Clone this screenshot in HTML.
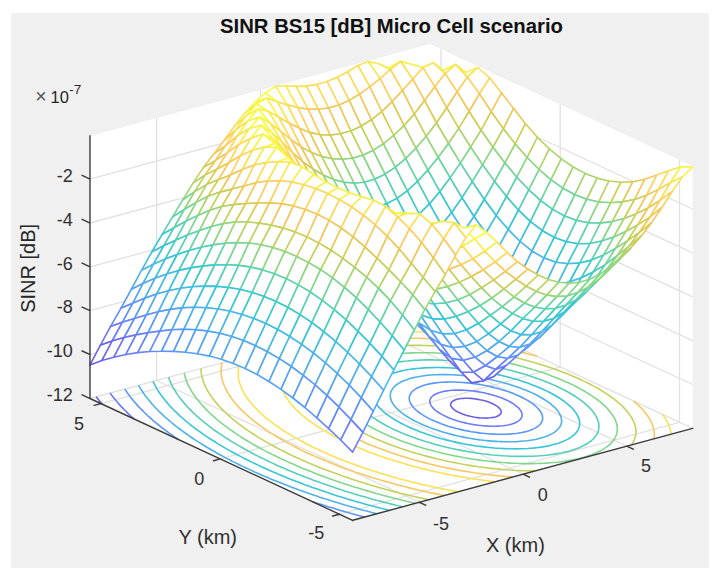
<!DOCTYPE html>
<html><head><meta charset="utf-8"><title>SINR BS15 [dB] Micro Cell scenario</title>
<style>
html,body{margin:0;padding:0;background:#fff;}
body{width:720px;height:579px;overflow:hidden;position:relative;}
#fig{position:absolute;left:11px;top:13px;width:698.3px;height:555.4px;background:#f0f0f0;}
svg{position:absolute;left:0;top:0;font-family:"Liberation Sans",Arial,Helvetica,sans-serif;}
</style></head><body>
<div id="fig"></div>
<svg width="720" height="579" viewBox="0 0 720 579">
<defs><filter id="bl" x="-2%" y="-2%" width="104%" height="104%"><feGaussianBlur stdDeviation="0.6"/></filter></defs>
<polygon points="352.6,520.3 692.6,428.4 430,306.6 90,398.5" fill="#fff"/>
<polygon points="90,398.5 430,306.6 430,44.1 90,136" fill="#fff"/>
<polygon points="430,306.6 692.6,428.4 692.6,165.9 430,44.1" fill="#fff"/>
<path d="M419.3 502.3L156.7 380.5M156.7 380.5L156.7 118M523.1 474.2L260.5 352.4M260.5 352.4L260.5 89.9M626.9 446.2L364.3 324.4M364.3 324.4L364.3 61.9M339.5 514.2L679.5 422.3M679.5 422.3L679.5 159.8M220.2 458.9L560.2 367M560.2 367L560.2 104.5M101 403.6L441 311.7M441 311.7L441 49.2M90 398.5L430 306.6M430 306.6L692.6 428.4M90 354.6L430 262.7M430 262.7L692.6 384.5M90 310.7L430 218.8M430 218.8L692.6 340.6M90 266.9L430 175M430 175L692.6 296.8M90 223L430 131.1M430 131.1L692.6 252.9M90 179.1L430 87.2M430 87.2L692.6 209" stroke="#e1e1e1" stroke-width="1.3" fill="none"/>
<g fill="none" stroke-width="1.6" filter="url(#bl)">
<polyline points="490.5,417.8 487.9,418 486.9,418.1 482.7,418 480.3,417.9 477.7,417.6 474.8,417.2 471.3,416.5 470.1,416.3 466,415.2 462.4,414 459.2,412.6 456.4,411.2 454.1,409.6 452.3,407.9 452,407.6 451,406.1 450.7,405.1 450.7,404 450.9,403.3 451.8,401.8 452.6,401.3 453.4,400.7 455.5,399.7 458,399 461.1,398.5 463.3,398.4 464.6,398.3 468.7,398.3 471.2,398.4 473.6,398.7 476.8,399.1 479.8,399.7 481.5,400 485.7,401.1 489.3,402.3 492.2,403.5 492.5,403.6 492.7,403.8 495.3,405.1 497.7,406.6 499.5,408.3 500.2,409.1 500.8,410.1 501.2,411.5 501.2,412.2 501,413.3 499.9,414.7 499.7,414.8 498.3,415.8 496.2,416.7 493.6,417.4 490.5,417.8" stroke="#6b61e2"/>
<polyline points="96.2,396.8 97.2,398 97.6,398.6 99.1,400.4 99.7,401.1 100.6,402.2 102.2,404 102.5,404.3" stroke="#6b61e2"/>
<polyline points="500,426 498.4,426.1 496.3,426.2 492.3,426.3 490,426.2 488,426.1 483.3,425.8 483.2,425.8 477.8,425.2 477.6,425.2 472.4,424.4 471.6,424.2 467.7,423.5 464.1,422.6 463.3,422.5 459.3,421.4 455.5,420.2 452.6,419.2 451.9,419 448.6,417.7 445.5,416.3 442.7,414.9 440,413.4 439.7,413.2 437.6,411.9 435.5,410.3 433.6,408.6 433.4,408.4 432,406.8 431,405.4 430.8,405 430,403 430,403 429.8,401.1 429.8,400.8 430.2,399.3 430.6,398.5 430.9,397.8 432.1,396.5 433.2,395.6 433.6,395.2 435.4,394.2 437.4,393.2 439.7,392.4 442.3,391.7 445.1,391.1 448.2,390.7 451.5,390.3 452.8,390.2 455.1,390.1 459.1,390.1 461.5,390.1 463.4,390.2 468.1,390.5 468.2,390.5 473.4,391 474,391.1 479.2,391.9 479.5,392 483.9,392.8 486.8,393.5 488.3,393.8 492.4,394.9 496.2,396.1 497.4,396.5 499.7,397.3 503.1,398.6 506.2,399.9 509,401.3 511.7,402.8 513.5,403.9 514.1,404.3 516.3,406 518.2,407.6 518.9,408.3 519.8,409.4 521.1,411.2 521.1,411.2 521.9,413.2 521.9,413.5 522.1,415.3 522.1,415.5 521.7,417.2 521.4,417.7 520.8,418.7 519.6,420 519,420.6 518.1,421.2 516.3,422.3 514.2,423.2 511.9,424 509.3,424.7 506.5,425.3 503.3,425.7 500,426" stroke="#6c7cfa"/>
<polyline points="110.1,393.1 111.5,394.9 111.9,395.4 112.9,396.7 114.2,398.4 114.3,398.5 115.8,400.3 116.7,401.4 117.3,402.1 118.8,403.9 119.5,404.6 120.4,405.6 122,407.4 122.6,407.9 123.7,409.1 125.4,410.8 126,411.4 127.2,412.6 128.9,414.3 129.8,415.1 130.7,416 132.6,417.7 134,418.9" stroke="#6c7cfa"/>
<polyline points="312.3,501.6 314.1,502.2 317.8,503.4 321.5,504.6 325.3,505.8 325.6,505.9 329,507 332.8,508.1 336.7,509.3 337.6,509.5 340.5,510.4 344.4,511.6 348.4,512.7 348.5,512.7 352.3,513.8 356.3,514.9 358.7,515.5 360.4,516 364.4,517.1" stroke="#5a98fc"/>
<polyline points="512.7,433.8 509.5,434.1 509.2,434.1 505.5,434.3 501.6,434.3 500.5,434.3 497.4,434.3 493.1,434.1 493,434.1 488.2,433.8 486.7,433.7 483.1,433.3 480.8,433.1 477.5,432.6 475.4,432.3 471.4,431.7 470.4,431.5 465.6,430.6 464.4,430.4 461.1,429.6 456.8,428.6 456.2,428.4 452.8,427.5 448.9,426.4 445.2,425.2 444.8,425 441.7,423.9 438.3,422.6 435.1,421.3 432.1,420 429.1,418.6 426.4,417.1 423.8,415.6 421.9,414.4 421.4,414.1 419.1,412.5 417,410.9 415.6,409.6 415.1,409.2 413.5,407.5 412.5,406.2 412,405.7 410.8,403.8 410.7,403.5 409.9,401.8 409.7,401.2 409.4,399.8 409.3,399.1 409.3,397.6 409.3,397.2 409.7,395.5 409.8,395.3 410.4,394 411.3,392.7 411.4,392.5 412.6,391.2 414.1,390 414.6,389.6 415.7,388.9 417.6,387.8 419.6,386.9 421.8,386 424.2,385.2 426.8,384.5 429.5,383.9 432.4,383.4 435.5,382.9 438.8,382.5 441.7,382.3 442.3,382.3 446,382.1 449.9,382 450.9,382 454,382 458.4,382.2 458.4,382.2 463.1,382.5 464.8,382.6 468.2,382.9 470.7,383.2 473.7,383.6 476.1,383.9 479.8,384.5 481.2,384.8 486,385.7 486.6,385.8 490.5,386.6 494.6,387.6 494.8,387.7 498.9,388.8 502.7,389.9 505.5,390.8 506.5,391.1 510,392.3 513.4,393.6 516.6,394.9 519.7,396.3 522.6,397.7 525.3,399.1 527.9,400.6 530.4,402.1 531.1,402.7 532.6,403.7 534.7,405.4 536.6,407 536.8,407.2 538.3,408.8 539.7,410.4 539.8,410.5 541,412.4 541.4,413.1 541.9,414.4 542.3,415.4 542.5,416.4 542.6,417.5 542.6,418.5 542.6,419.3 542.2,420.9 542.1,421 541.4,422.5 540.8,423.4 540.4,424 539.1,425.3 537.7,426.5 537.6,426.5 536,427.6 534.1,428.6 532,429.6 529.8,430.4 527.4,431.2 524.8,431.9 522,432.5 519.1,433 516,433.5 512.7,433.8" stroke="#5a98fc"/>
<polyline points="124.8,389.1 125.8,390.5 126.1,390.9 127.3,392.8 127.7,393.3 128.6,394.6 129.8,396.2 130,396.4 131.4,398.3 132.1,399.1 132.9,400.1 134.4,401.8 134.7,402.2 135.9,403.6 137.5,405.4 137.5,405.4 139.1,407.1 140.7,408.8 140.8,408.9 142.5,410.6 144.2,412.3 144.2,412.3 146,414 147.8,415.7 148.1,416 149.7,417.4 151.5,419.1 152.5,419.9 153.5,420.8 155.4,422.4 157.4,424.1 157.5,424.1 159.5,425.7 161.5,427.4 163.3,428.7 163.6,429 165.8,430.6 167.9,432.2 170,433.7 170.1,433.8 172.4,435.4 174.6,437 176.9,438.5 178.2,439.4" stroke="#5a98fc"/>
<polyline points="527.4,440.7 524.4,441 524.1,441 520.7,441.3 517.1,441.6 513.7,441.7 513.4,441.7 509.4,441.8 505.4,441.8 505.3,441.8 501,441.6 498.2,441.5 496.5,441.4 491.7,441.1 491.6,441.1 486.6,440.6 485.6,440.5 481.2,440 480,439.9 475.4,439.2 474.6,439.1 469.6,438.3 469.2,438.2 464.8,437.4 462.2,436.9 460.2,436.5 455.7,435.5 454.3,435.1 451.5,434.4 447.4,433.3 444.8,432.6 443.5,432.2 439.7,431 436,429.8 432.5,428.6 430.8,428 429.1,427.3 425.8,426 422.6,424.7 419.6,423.3 416.7,421.9 413.9,420.5 411.2,419 410.1,418.4 408.6,417.5 406.2,416 403.9,414.4 401.7,412.8 401.2,412.4 399.7,411.2 397.9,409.5 396.8,408.4 396.1,407.8 394.6,406 394.1,405.3 393.3,404.2 392.3,402.6 392.1,402.3 391.2,400.3 391.1,400.1 390.6,398.3 390.5,398 390.3,396.2 390.3,396 390.3,394.1 390.4,394 390.7,392.4 391,391.6 391.3,390.8 392.2,389.3 392.3,389.1 393.2,387.9 394.4,386.5 394.8,386.2 395.8,385.3 397.4,384.1 399.1,383 399.8,382.7 401,382 403,381.1 405.2,380.2 407.5,379.4 409.9,378.6 412.5,377.9 415.2,377.3 418,376.7 421,376.2 424.1,375.7 426.6,375.4 427.4,375.3 430.8,375 434.4,374.8 437.6,374.7 438.1,374.6 442,374.6 446,374.6 446.1,374.6 450.4,374.7 453.3,374.8 454.9,374.9 459.6,375.2 459.9,375.2 464.7,375.6 465.9,375.8 470,376.2 471.6,376.4 475.8,377 476.9,377.2 482,378 482,378 486.8,378.9 488.8,379.3 491.4,379.8 495.9,380.8 496.6,381 500.1,381.8 504.2,382.9 505.8,383.4 508.2,384 512,385.2 515.7,386.4 518.8,387.5 519.2,387.6 522.6,388.9 525.9,390.2 529.1,391.5 532.1,392.9 535,394.3 537.9,395.7 540.5,397.2 543.1,398.7 543.5,399 545.5,400.2 547.8,401.8 550,403.4 551.4,404.5 552,405.1 553.9,406.7 555.5,408.3 555.7,408.5 557.2,410.2 558.1,411.4 558.6,412.1 559.7,413.9 559.8,414.1 560.6,415.9 560.8,416.5 561.3,417.9 561.4,418.6 561.6,420 561.6,420.6 561.6,422.2 561.5,422.4 561.1,424.1 561,424.5 560.5,425.7 559.7,427.1 559.6,427.2 558.5,428.6 557.3,429.9 557.3,429.9 555.9,431.2 554.3,432.3 552.6,433.4 552.6,433.4 550.7,434.4 548.6,435.4 546.5,436.3 544.2,437.1 541.7,437.8 539.1,438.5 536.4,439.2 533.5,439.7 530.6,440.2 527.4,440.7" stroke="#50b0ec"/>
<polyline points="138.6,385.4 139.7,387.2 140,387.6 140.9,389.1 141.6,390.3 142.1,391 143.3,392.9 143.4,393 144.6,394.7 145.5,395.9 146,396.5 147.3,398.3 147.7,398.8 148.8,400.1 150.2,401.8 150.3,401.9 151.8,403.7 153,405 153.4,405.5 155,407.2 156.1,408.4 156.7,409 158.4,410.7 159.6,411.9 160.1,412.4 161.9,414.1 163.5,415.6 163.7,415.8 165.6,417.5 167.5,419.2 167.9,419.5 169.5,420.8 171.4,422.5 172.9,423.7 173.4,424.1 175.5,425.8 177.6,427.4 178.8,428.3 179.7,429 181.9,430.6 184,432.2 185.8,433.5 186.3,433.8 188.5,435.4 190.8,437 193.1,438.5 194.3,439.3 195.5,440.1 197.9,441.6 200.3,443.2 202.7,444.7 205.2,446.2 205.6,446.5 207.7,447.7 210.3,449.2 212.9,450.7 215.5,452.2 218.1,453.7 220.8,455.2 223.5,456.6 223.6,456.7 226.2,458.1 229,459.5 231.8,461 234.6,462.4 237.4,463.8 240.3,465.2 243.2,466.6 246.2,468 249.1,469.4 252.1,470.8 255.1,472.2 258.2,473.5 261.3,474.9 264.4,476.2 267.6,477.6 270.7,478.9 273.9,480.2 277.2,481.5 277.3,481.6 280.4,482.8 283.7,484.1 287.1,485.4 290.4,486.7 293.8,488 297.2,489.3 300.4,490.4 300.7,490.5 304.2,491.8 307.7,493 311.2,494.2 314.8,495.5 316.8,496.1 318.4,496.7 322.1,497.9 325.7,499.1 329.5,500.3 330.5,500.6 333.2,501.4 337,502.6 340.8,503.8 342.6,504.3 344.6,504.9 348.5,506.1 352.4,507.2 353.7,507.6 356.4,508.3 360.4,509.4 363.9,510.4 364.4,510.5 368.5,511.6 372.6,512.7 373.4,512.9 376.7,513.8" stroke="#50b0ec"/>
<polyline points="544.3,446.6 544.1,446.6 541.3,447.1 538.1,447.5 534.9,447.9 531.5,448.2 529.7,448.3 527.9,448.5 524.3,448.7 520.5,448.8 519.9,448.8 516.5,448.9 512.5,448.8 511.7,448.8 508.2,448.8 504.3,448.6 503.8,448.6 499.1,448.3 497.6,448.2 494.3,448 491.4,447.7 489.2,447.5 485.5,447.1 483.9,446.9 480,446.4 478.2,446.2 474.7,445.7 472.2,445.3 469.6,444.9 465.7,444.2 464.7,444 460,443.1 458.6,442.8 455.5,442.1 451.1,441.1 450.8,441 446.8,440.1 442.7,439 441.7,438.7 438.7,437.9 434.8,436.7 431.1,435.6 430.1,435.2 427.4,434.4 423.9,433.1 420.5,431.9 417.1,430.6 413.9,429.2 410.8,427.9 407.7,426.5 404.8,425.1 402,423.7 399.2,422.3 396.6,420.8 394.1,419.3 391.7,417.7 390.1,416.7 389.4,416.2 387.1,414.6 385.1,412.9 383.7,411.8 383.1,411.3 381.2,409.6 379.8,408.1 379.5,407.9 378,406.1 377.1,405 376.5,404.3 375.3,402.4 375.1,402.2 374.2,400.5 373.8,399.7 373.3,398.6 372.9,397.4 372.7,396.6 372.4,395.2 372.3,394.5 372.2,393.3 372.2,392.3 372.3,391.4 372.5,390 372.6,389.7 373.1,388 373.3,387.6 373.9,386.5 374.7,385.1 374.8,385 375.8,383.6 377,382.3 377,382.3 378.4,381 379.9,379.8 381,379 381.5,378.7 383.3,377.6 385.1,376.6 387.1,375.6 389.3,374.7 390.3,374.3 391.5,373.8 393.8,373 396.3,372.3 398.9,371.6 401.5,370.9 404.3,370.3 406.2,370 407.2,369.8 410.3,369.3 413.4,368.9 416.7,368.5 420,368.2 421.5,368.1 423.6,367.9 427.2,367.7 431,367.6 431.4,367.6 434.9,367.5 439,367.5 439.7,367.5 443.2,367.6 447.1,367.7 447.6,367.7 452.2,368 453.8,368.1 457,368.3 460.1,368.6 462.1,368.8 466,369.2 467.4,369.3 471.6,369.8 473,370 476.9,370.6 479,370.9 482,371.4 485.4,372 486.9,372.3 491.6,373.2 492.4,373.4 496.2,374.2 500.1,375.1 500.6,375.2 504.8,376.2 508.9,377.3 509.1,377.3 512.9,378.4 516.8,379.5 520.2,380.6 520.6,380.7 524.2,381.9 527.8,383.1 531.2,384.4 534.6,385.7 537.8,387 540.9,388.3 544,389.7 546.9,391.1 549.7,392.5 552.5,394 555.1,395.5 557.7,397 560.1,398.5 562.4,400.1 562.8,400.3 564.6,401.7 566.7,403.3 568.7,404.9 568.7,405 570.5,406.6 572.3,408.4 572.5,408.6 573.8,410.1 575.1,411.7 575.3,411.9 576.5,413.8 576.9,414.5 577.6,415.7 578.2,416.9 578.5,417.6 579,419.2 579.2,419.6 579.5,421.3 579.6,421.7 579.7,423.3 579.7,423.9 579.6,425.1 579.4,426.1 579.2,426.9 578.7,428.5 578.7,428.5 577.9,430.1 577.3,431.1 577,431.5 576,432.9 575.1,433.9 574.7,434.2 573.4,435.5 571.8,436.7 571.2,437.1 570.2,437.8 568.4,438.9 566.5,439.9 564.5,440.8 562.8,441.6 562.4,441.7 560.1,442.6 557.8,443.4 555.3,444.1 552.7,444.8 550,445.5 547.2,446.1 544.3,446.6" stroke="#38c4d9"/>
<polyline points="153.1,381.4 153.6,382.6 154,383.4 154.9,385.1 155,385.3 156,387.2 156.3,387.6 157.1,389.1 157.9,390.3 158.3,391 159.5,392.9 159.6,393 160.8,394.7 161.6,395.8 162.1,396.5 163.5,398.3 163.8,398.7 165,400.1 166.2,401.7 166.4,401.9 168,403.7 169,404.9 169.5,405.5 171.2,407.2 172.1,408.2 172.8,409 174.5,410.7 175.5,411.7 176.3,412.4 178.1,414.1 179.5,415.4 179.9,415.8 181.8,417.5 183.7,419.2 183.9,419.4 185.7,420.8 187.6,422.5 189.1,423.7 189.7,424.1 191.7,425.8 193.9,427.4 195.1,428.4 196,429 198.2,430.6 200.4,432.2 202.4,433.6 202.6,433.8 204.9,435.3 207.2,436.9 209.6,438.5 211.6,439.8 212,440 214.4,441.5 216.9,443.1 219.4,444.6 221.9,446.1 224.4,447.6 224.5,447.7 227,449.1 229.6,450.6 232.3,452 235,453.5 237.7,455 240.4,456.4 243.2,457.9 246,459.3 248.9,460.7 251.7,462.1 253.7,463.1 254.6,463.5 257.6,464.9 260.5,466.3 263.5,467.7 266.6,469.1 267.7,469.6 269.6,470.4 272.7,471.8 275.8,473.1 279,474.5 282.2,475.8 285.4,477.1 288.7,478.4 291.9,479.7 295.3,481 298.6,482.3 302,483.6 302.1,483.6 305.4,484.9 308.8,486.1 312.3,487.4 315.8,488.6 319.4,489.8 320.1,490.1 323,491.1 326.6,492.3 330.2,493.5 333.9,494.7 334.5,494.9 337.6,495.9 341.4,497.1 345.1,498.2 346.9,498.8 349,499.4 352.8,500.5 356.7,501.7 358.1,502.1 360.7,502.8 364.6,503.9 368.4,505 368.6,505 372.7,506.1 376.8,507.2 378.1,507.5 380.9,508.3 385.1,509.3 387.1,509.8 389.3,510.4" stroke="#38c4d9"/>
<polyline points="561.8,452.8 561.2,453 559,453.4 556,453.9 552.9,454.4 549.8,454.8 546.5,455.2 543.9,455.5 543.2,455.5 539.7,455.8 536.1,456 533.1,456.2 532.4,456.2 528.6,456.3 524.7,456.4 524.1,456.4 520.6,456.4 516.4,456.4 516.2,456.4 512.1,456.2 509,456.1 507.6,456 502.9,455.8 502.3,455.7 498.1,455.4 496,455.2 493,455 490.1,454.7 487.8,454.4 484.4,454 482.3,453.8 478.9,453.3 476.5,453 473.6,452.5 470.4,452 468.6,451.7 463.9,450.9 463.7,450.9 458.9,449.9 456.8,449.5 454.3,449 449.8,448 449.2,447.9 445.5,447 441.2,446 440.7,445.8 437.1,444.9 433.1,443.8 430.8,443.1 429.2,442.6 425.4,441.5 421.7,440.3 418.1,439.1 418,439.1 414.5,437.8 411.1,436.6 407.7,435.3 404.4,434 401.2,432.7 398.1,431.3 395.1,430 392.2,428.6 389.3,427.1 386.5,425.7 383.8,424.2 381.2,422.7 378.7,421.2 376.4,419.8 376.3,419.7 374,418.1 371.7,416.6 369.6,414.9 368.9,414.4 367.5,413.3 365.6,411.6 364.1,410.3 363.7,409.9 362,408.2 360.7,406.8 360.4,406.5 358.9,404.7 358.2,403.8 357.6,402.9 356.4,401 356.3,401 355.3,399.1 355,398.5 354.4,397.1 354.1,396.2 353.7,395.1 353.4,394 353.2,393.1 353.1,391.9 353,390.9 353,390 353,388.8 353.1,388.2 353.3,386.5 353.4,386.4 353.9,384.7 354.1,384.1 354.5,383.2 355.3,381.6 355.4,381.5 356.3,380.2 357.4,378.8 357.4,378.8 358.6,377.5 359.9,376.2 360.4,375.8 361.4,375 363,373.8 364.7,372.7 365.5,372.2 366.4,371.7 368.3,370.7 370.3,369.7 372.4,368.8 374.6,367.9 376.9,367.1 378.5,366.5 379.3,366.3 381.7,365.5 384.3,364.8 387,364.2 388.2,363.9 389.7,363.6 392.6,363 395.6,362.5 398.6,362 401.8,361.6 405,361.2 407.2,361 408.3,360.8 411.8,360.6 415.4,360.3 418.2,360.2 419,360.1 422.8,360 426.8,359.9 427.2,359.9 430.8,359.9 435,360 435.2,360 439.3,360.1 442.4,360.2 443.8,360.3 448.4,360.5 449.1,360.6 453.2,360.9 455.5,361.1 458.3,361.3 461.5,361.6 463.5,361.8 467.2,362.3 469,362.5 472.7,363 474.7,363.3 477.9,363.7 480.8,364.2 483,364.6 487.3,365.3 487.9,365.4 492.7,366.3 494.2,366.6 497.3,367.3 501.7,368.2 501.8,368.2 506.1,369.3 510.1,370.2 510.4,370.3 514.5,371.4 518.5,372.5 519.9,372.9 522.5,373.6 526.3,374.8 530,376 532.1,376.7 533.6,377.2 537.2,378.4 540.6,379.7 544,380.9 547.3,382.2 550.5,383.6 553.6,384.9 556.6,386.3 559.6,387.7 562.4,389.1 565.2,390.5 567.9,392 570.5,393.5 573,395 575.5,396.5 576.6,397.3 577.8,398.1 580,399.7 582.2,401.3 583.7,402.5 584.3,402.9 586.2,404.6 588.1,406.3 588.3,406.5 589.8,408 591.4,409.7 591.5,409.9 592.9,411.5 593.9,412.9 594.3,413.4 595.5,415.2 595.7,415.6 596.5,417.1 597,418.1 597.4,419.1 597.9,420.4 598.1,421.1 598.5,422.6 598.7,423.1 598.9,424.6 598.9,425.2 598.9,426.6 598.9,427.4 598.8,428.4 598.6,429.7 598.5,430.1 598,431.8 597.8,432.1 597.3,433.4 596.6,434.6 596.5,434.9 595.5,436.3 594.7,437.3 594.4,437.7 593.2,439 591.8,440.3 591.7,440.3 590.3,441.5 588.7,442.6 587,443.7 586.9,443.8 585.2,444.8 583.3,445.8 581.3,446.8 579.2,447.7 577,448.5 575.5,449.1 574.7,449.4 572.3,450.1 569.9,450.9 567.3,451.6 564.6,452.2 561.8,452.8" stroke="#56cfb9"/>
<polyline points="168.6,377.3 169,378.4 169.3,379.3 169.9,380.7 170.1,381.2 170.9,383.1 171,383.2 171.9,385.1 172.1,385.5 172.9,387.1 173.4,388 173.9,389 175,390.6 175.1,390.8 176.3,392.7 176.7,393.3 177.5,394.6 178.6,396.1 178.8,396.4 180.2,398.2 180.8,399 181.6,400 183.1,401.8 183.2,402 184.6,403.6 186,405.2 186.1,405.4 187.7,407.1 189.1,408.5 189.4,408.9 191.1,410.6 192.6,412.1 192.9,412.3 194.7,414 196.5,415.7 196.6,415.8 198.4,417.4 200.3,419.1 201.3,419.8 202.3,420.7 204.3,422.4 206.4,424 206.7,424.2 208.4,425.6 210.6,427.3 212.7,428.9 213.1,429.1 214.9,430.5 217.2,432 219.5,433.6 221.1,434.7 221.8,435.2 224.1,436.7 226.5,438.3 228.9,439.8 231.4,441.3 231.8,441.6 233.9,442.9 236.4,444.4 239,445.9 241.6,447.3 244.2,448.8 246.9,450.3 249,451.4 249.6,451.8 252.3,453.2 255.1,454.7 257.9,456.1 260.7,457.5 263.6,458.9 266.5,460.3 269.4,461.7 272.4,463.1 275.4,464.5 278.4,465.9 281.5,467.2 284.6,468.6 287.7,469.9 290.9,471.3 294.1,472.6 297.3,473.9 298.2,474.3 300.6,475.2 303.9,476.5 307.2,477.8 310.6,479.1 314,480.4 317.4,481.6 320.6,482.8 320.9,482.9 324.4,484.1 327.9,485.3 331.5,486.6 335.1,487.8 336.4,488.2 338.8,489 342.5,490.2 346.2,491.4 349.6,492.4 350,492.5 353.7,493.7 357.6,494.9 361.2,495.9 361.5,496 365.4,497.1 369.3,498.3 371.7,498.9 373.3,499.4 377.4,500.5 381.5,501.5 381.5,501.6 385.6,502.6 389.7,503.7 390.7,503.9 394,504.7 398.2,505.8 399.3,506 402.5,506.8" stroke="#56cfb9"/>
<polyline points="563.9,461.4 561.3,461.7 560.7,461.8 557.5,462.2 554.1,462.5 550.7,462.8 548.6,463 547.2,463.1 543.5,463.3 539.8,463.4 538.6,463.5 536,463.5 532,463.6 529.9,463.6 528,463.6 523.8,463.6 522.1,463.5 519.5,463.5 515.1,463.3 514.8,463.3 510.6,463.1 508.1,462.9 505.8,462.8 501.7,462.5 501,462.4 495.9,462 495.5,461.9 490.7,461.4 489.7,461.3 485.3,460.8 484.1,460.7 479.6,460.1 478.6,459.9 473.7,459.2 473.4,459.2 468.3,458.4 467.4,458.2 463.4,457.5 460.8,457 458.6,456.6 453.9,455.7 453.7,455.6 449.3,454.7 446.1,454 444.9,453.7 440.6,452.7 437.7,452 436.3,451.7 432.2,450.6 428.3,449.5 428.2,449.5 424.2,448.4 420.3,447.2 417.1,446.2 416.6,446.1 412.9,444.9 409.2,443.6 405.7,442.4 402.2,441.2 401.6,440.9 398.9,439.9 395.5,438.6 392.3,437.3 389.1,435.9 386.1,434.6 383,433.2 380.1,431.8 377.2,430.4 374.4,429 371.7,427.5 369,426 367.2,424.9 366.5,424.5 364,423 361.5,421.5 359.2,419.9 356.9,418.4 356.8,418.2 354.7,416.8 352.7,415.1 350.7,413.5 350.6,413.5 348.7,411.8 346.9,410.1 346.4,409.7 345.2,408.4 343.5,406.6 343.2,406.3 342,404.9 340.8,403.2 340.6,403.1 339.3,401.2 338.9,400.5 338.2,399.3 337.4,397.9 337.1,397.4 336.3,395.5 336.3,395.5 335.6,393.5 335.5,393.2 335,391.4 335,391.1 334.7,389.3 334.7,389.1 334.6,387.2 334.6,387.2 334.7,385.3 334.8,384.9 335,383.6 335.2,382.6 335.4,381.9 336,380.3 336.1,380.2 336.8,378.7 337.4,377.6 337.6,377.2 338.6,375.8 339.3,374.9 339.7,374.4 340.9,373.1 342,372 342.2,371.8 343.7,370.6 345.2,369.4 346.2,368.7 346.8,368.2 348.5,367.1 350.3,366.1 352.2,365.1 353.2,364.6 354.2,364.1 356.3,363.2 358.4,362.3 360.7,361.4 363,360.6 365.4,359.8 367.9,359.1 370.5,358.4 373.1,357.7 375.9,357.1 378.7,356.5 381.6,356 384.6,355.5 387.6,355 389.6,354.8 390.8,354.6 394,354.2 397.4,353.9 400.8,353.6 402.6,353.4 404.3,353.3 407.9,353.1 411.7,352.9 412.7,352.9 415.5,352.8 419.4,352.7 421.5,352.7 423.4,352.7 427.6,352.8 429.3,352.8 431.9,352.8 436.3,353 436.6,353 440.8,353.2 443.4,353.4 445.5,353.5 449.8,353.8 450.3,353.9 455.4,354.3 456,354.3 460.6,354.8 461.8,355 466,355.4 467.5,355.6 471.6,356.2 472.9,356.3 477.5,357 478.2,357.1 483.3,357.9 483.8,358 488.2,358.8 490.3,359.2 493,359.7 497.3,360.5 497.7,360.6 502.3,361.6 504.9,362.1 506.7,362.5 511.1,363.6 513.1,364.1 515.3,364.6 519.4,365.7 522.4,366.5 523.5,366.8 527.4,367.9 531.3,369 533.4,369.7 535.1,370.2 538.8,371.4 542.4,372.6 546,373.8 548.1,374.6 549.4,375.1 552.8,376.4 556.1,377.7 559.4,379 562.6,380.3 565.6,381.7 568.7,383 571.6,384.4 574.5,385.8 577.3,387.3 580,388.7 582.7,390.2 585.3,391.7 586.4,392.4 587.8,393.2 590.2,394.7 592.6,396.3 594.8,397.9 596,398.7 597,399.5 599.1,401.1 601.1,402.7 601.8,403.3 603.1,404.4 604.9,406.1 605.9,407.1 606.6,407.8 608.3,409.6 609,410.4 609.8,411.4 611.2,413.2 611.4,413.4 612.5,415 613.2,416.2 613.7,416.9 614.7,418.7 614.7,418.8 615.6,420.7 615.7,421.1 616.3,422.7 616.5,423.3 616.8,424.8 617,425.5 617.2,426.9 617.2,427.5 617.3,429 617.3,429.4 617.2,431.2 617.2,431.3 616.9,433 616.7,433.6 616.4,434.7 615.9,436 615.8,436.3 615,437.8 614.6,438.5 614.2,439.3 613.2,440.7 612.8,441.2 612.1,442.1 610.8,443.4 610.1,444.1 609.5,444.7 608.1,445.9 606.5,447.1 606.1,447.4 604.9,448.2 603.2,449.3 601.3,450.4 599.4,451.4 599.3,451.4 597.4,452.3 595.4,453.3 593.2,454.1 590.9,455 588.6,455.8 586.2,456.6 583.7,457.3 581.1,458 578.5,458.7 575.7,459.3 572.9,459.9 570,460.4 567,460.9 563.9,461.4" stroke="#81d78d"/>
<polyline points="184.2,373 184.5,374.3 184.7,375.1 185,376.4 185.2,377.1 185.7,378.6 185.9,379.2 186.5,380.9 186.6,381.1 187.4,383.1 187.4,383.2 188.3,385.1 188.5,385.6 189.2,387 189.8,388.1 190.3,388.9 191.3,390.6 191.4,390.8 192.5,392.7 192.9,393.3 193.7,394.6 194.8,396 195,396.4 196.4,398.2 196.9,398.9 197.8,400 199.2,401.8 199.3,401.9 200.7,403.6 202,405.1 202.3,405.4 203.9,407.1 205.1,408.4 205.6,408.9 207.3,410.6 208.6,411.9 209,412.3 210.8,414 212.6,415.7 212.7,415.7 214.6,417.4 216.5,419.1 217.3,419.7 218.5,420.7 220.5,422.4 222.6,424 222.9,424.2 224.7,425.6 226.9,427.2 229.1,428.8 229.6,429.2 231.3,430.4 233.6,432 235.9,433.6 238.2,435.1 238.2,435.1 240.6,436.7 243,438.2 245.5,439.7 248,441.2 250.4,442.6 250.5,442.7 253.1,444.2 255.7,445.7 258.4,447.2 261.1,448.7 263.8,450.1 266.5,451.6 269.3,453 272.1,454.4 275,455.8 277.9,457.2 280.8,458.6 281.2,458.8 283.8,460 286.8,461.4 286.8,461.4 289.8,462.8 292.9,464.1 296,465.5 299.1,466.8 302.3,468.2 305.5,469.5 308.8,470.8 312.1,472.1 315.4,473.4 318.7,474.7 322.1,476 322.6,476.1 325.6,477.2 329,478.5 332.5,479.7 336.1,481 339.6,482.2 339.9,482.3 343.3,483.4 346.9,484.6 350.6,485.8 353.6,486.7 354.3,487 358.1,488.1 361.9,489.3 365.6,490.4 365.8,490.4 369.7,491.6 373.6,492.7 376.3,493.5 377.6,493.8 381.6,494.9 385.7,496 386.1,496.1 389.8,497.1 394,498.2 395.3,498.5 398.2,499.2 402.4,500.3 404,500.6 406.7,501.3 411.1,502.3 412.2,502.6 415.5,503.3" stroke="#81d78d"/>
<polyline points="535.2,470.9 531.5,470.9 527.5,470.8 527.2,470.8 522.9,470.7 520.3,470.6 518.4,470.5 513.8,470.3 513.5,470.2 509.1,470 507,469.8 504.2,469.6 500.8,469.3 499.1,469.1 494.8,468.7 493.9,468.6 489.1,468.1 488.6,468 483.5,467.4 483,467.3 478.1,466.7 477.2,466.5 472.9,465.9 471.1,465.6 467.8,465.1 464.8,464.5 462.8,464.2 458.1,463.3 458,463.3 453.3,462.4 451,462 448.7,461.5 444.2,460.5 443.5,460.3 439.8,459.5 435.4,458.5 435.3,458.4 431.2,457.4 427.1,456.4 426.3,456.1 423,455.3 419,454.1 416,453.3 415.1,453 411.3,451.9 407.6,450.7 403.9,449.5 403.5,449.3 400.3,448.3 396.7,447 393.3,445.8 389.8,444.5 386.5,443.2 384.2,442.3 383.2,441.9 380,440.6 376.9,439.3 373.8,437.9 370.8,436.5 367.8,435.1 365,433.7 362.1,432.3 359.4,430.8 358.7,430.5 356.7,429.4 354.1,427.9 351.5,426.4 349,424.9 346.6,423.3 344.7,422.1 344.2,421.8 342,420.2 339.7,418.6 337.6,417 337.3,416.8 335.5,415.4 333.6,413.7 332.2,412.5 331.7,412 329.8,410.3 328.3,408.8 328.1,408.6 326.5,406.9 325.2,405.5 324.9,405.1 323.5,403.3 322.8,402.5 322.1,401.5 320.9,399.7 320.9,399.6 319.7,397.7 319.4,397.1 318.7,395.8 318.2,394.7 317.9,393.9 317.3,392.4 317.1,391.9 316.7,390.2 316.6,389.8 316.2,388.1 316.2,387.8 316,386.1 316,385.6 316,384.2 316,383.4 316.1,382.3 316.2,381.2 316.3,380.6 316.7,378.9 316.8,378.8 317.3,377.2 317.6,376.4 318,375.7 318.8,374.1 318.9,373.9 319.7,372.7 320.7,371.2 320.7,371.2 321.8,369.9 323,368.5 323.2,368.3 324.3,367.3 325.7,366 326.7,365.2 327.2,364.8 328.8,363.7 330.4,362.5 332,361.6 332.2,361.4 334,360.4 335.9,359.4 337.9,358.4 339.9,357.5 341.6,356.8 342.1,356.6 344.3,355.7 346.6,354.9 348.9,354.1 351.3,353.3 353.8,352.6 356.4,351.9 359.1,351.2 361.8,350.6 364.6,350 367.4,349.4 370.4,348.9 371.4,348.7 373.4,348.4 376.5,347.9 379.6,347.5 382.9,347.1 386.2,346.8 387,346.7 389.6,346.5 393.1,346.2 396.6,346 398.2,345.9 400.3,345.8 404,345.6 407.7,345.5 407.9,345.5 411.8,345.4 415.8,345.4 416.1,345.4 419.9,345.4 423.9,345.5 424.2,345.5 428.5,345.6 431.1,345.7 433,345.8 437.6,346 438,346.1 442.3,346.3 444.5,346.5 447.2,346.7 450.7,347 452.2,347.1 456.7,347.6 457.3,347.6 462.5,348.2 462.7,348.2 468,348.9 468.3,348.9 473.4,349.6 474,349.7 478.7,350.4 480.1,350.6 483.8,351.2 486.4,351.7 488.7,352.1 493,352.8 493.6,352.9 498.3,353.9 500,354.2 502.9,354.8 507.4,355.8 507.5,355.8 511.9,356.8 515.6,357.7 516.2,357.8 520.4,358.8 524.5,359.9 524.6,359.9 528.6,361 532.6,362.1 534.6,362.7 536.5,363.2 540.3,364.4 544.1,365.6 546.8,366.4 547.8,366.8 551.4,368 554.9,369.2 558.4,370.5 561.8,371.7 564.4,372.7 565.2,373 568.5,374.3 571.7,375.7 574.8,377 577.9,378.3 580.9,379.7 583.9,381.1 586.8,382.5 589.6,384 592.3,385.4 595,386.9 595.8,387.3 597.7,388.3 600.2,389.8 602.7,391.4 605.2,392.9 607.5,394.4 608.3,395 609.8,396 612,397.6 614.2,399.2 615.3,400.1 616.2,400.8 618.2,402.5 620.1,404.2 620.3,404.3 622,405.9 623.7,407.6 624,407.9 625.3,409.3 626.9,411.1 627,411.2 628.4,412.9 629.3,414.2 629.7,414.7 631,416.6 631.2,416.9 632.1,418.5 632.7,419.5 633.1,420.4 633.8,421.9 634,422.3 634.7,424.2 634.7,424.3 635.3,426.4 635.3,426.4 635.7,428.4 635.7,428.5 635.9,430.5 635.9,430.6 635.9,432.4 635.9,432.8 635.8,434.2 635.7,435 635.5,436 635.2,437.3 635.1,437.7 634.5,439.3 634.3,439.8 633.8,440.9 633.1,442.3 633,442.4 632.1,443.8 631.3,445" stroke="#c4d15c"/>
<polyline points="200.8,368.5 200.9,368.6 201,370.5 201,370.7 201.2,372.5 201.2,372.8 201.5,374.6 201.6,374.9 201.9,376.7 202,377 202.5,378.8 202.6,379 203.2,381 203.2,381 203.9,383 204,383.3 204.8,385 205.1,385.7 205.7,387 206.2,388.1 206.6,388.9 207.6,390.6 207.7,390.8 208.8,392.7 209.2,393.3 210,394.5 210.9,396 211.2,396.4 212.6,398.2 213,398.8 214,400 215.3,401.8 215.4,401.9 216.9,403.6 218,404.9 218.4,405.4 220,407.2 221,408.2 221.7,408.9 223.4,410.6 224.6,411.7 225.2,412.3 227,414 228.6,415.5 228.9,415.7 230.8,417.4 232.7,419.1 233.4,419.6 234.7,420.7 236.8,422.4 238.9,424 239.1,424.2 241,425.6 243.2,427.2 245.4,428.8 246.3,429.4 247.7,430.4 250,431.9 252.4,433.5 254.7,435 255.7,435.6 257.2,436.6 259.6,438.1 262.2,439.6 264.7,441.1 267.3,442.6 269.9,444.1 270.3,444.3 272.6,445.5 275.3,447 278,448.5 280.8,449.9 283.6,451.3 286.5,452.7 289.3,454.2 292.3,455.6 295.2,456.9 298.2,458.3 301.3,459.7 304.4,461 307.5,462.4 310.6,463.7 313.8,465.1 317,466.4 320.3,467.7 323.2,468.9 323.6,469 326.9,470.3 330.3,471.6 333.7,472.8 337.2,474.1 340.7,475.3 343,476.2 344.2,476.6 347.8,477.8 351.4,479 355.1,480.2 357.6,481 358.8,481.4 362.5,482.6 366.3,483.7 369.9,484.8 370.1,484.9 374,486 377.9,487.2 380.8,488 381.9,488.3 385.9,489.4 389.9,490.5 390.7,490.7 394,491.6 398.2,492.6 399.9,493.1 402.4,493.7 406.6,494.7 408.6,495.2 410.9,495.8 415.3,496.8 416.8,497.1 419.7,497.8 424.2,498.8 424.6,498.9 428.7,499.7" stroke="#c4d15c"/>
<polyline points="512.7,477 512,477 507.1,476.6 506.4,476.5 502,476.1 500.3,476 496.8,475.6 494.5,475.4 491.5,475 488.8,474.7 486,474.4 483.3,474 480.2,473.6 477.9,473.3 474.3,472.8 472.7,472.5 468.2,471.8 467.6,471.7 462.6,470.9 461.7,470.7 457.7,470 455,469.5 453,469.1 448.3,468.1 447.9,468.1 443.7,467.2 440.3,466.5 439.3,466.2 434.9,465.2 432.2,464.6 430.6,464.2 426.3,463.1 423.4,462.4 422.2,462.1 418.1,461 414.1,459.9 413.6,459.7 410.2,458.7 406.3,457.6 402.5,456.4 402.3,456.4 398.8,455.2 395.1,454 391.5,452.8 387.9,451.6 387.9,451.6 384.5,450.3 381.1,449.1 377.7,447.8 374.4,446.5 371.1,445.2 368,443.9 364.8,442.5 361.8,441.1 358.8,439.8 355.8,438.4 352.9,437 350.1,435.5 347.3,434.1 344.6,432.7 341.9,431.2 339.3,429.7 336.8,428.2 334.5,426.8 334.3,426.7 331.9,425.1 329.5,423.6 327.2,422 325.2,420.6 325,420.4 322.8,418.8 320.7,417.2 319,415.9 318.7,415.6 316.7,413.9 314.8,412.2 314.4,411.8 313,410.5 311.3,408.8 310.7,408.2 309.6,407 308,405.3 307.8,405 306.6,403.5 305.4,402 305.2,401.7 303.9,399.8 303.4,399.2 302.7,398 301.8,396.5 301.6,396.1 300.6,394.2 300.5,394 299.7,392.2 299.5,391.7 299,390.2 298.8,389.4 298.4,388.2 298.2,387.3 298,386.1 297.8,385.2 297.7,384 297.7,383.3 297.6,381.8 297.6,381.3 297.7,379.6 297.7,379.5 298,377.7 298.1,377.3 298.4,376 298.7,375 298.9,374.4 299.5,372.8 299.6,372.5 300.2,371.2 300.9,370 301.1,369.7 302,368.2 302.7,367.3 303,366.8 304.2,365.5 305,364.5 305.4,364.1 306.7,362.8 308,361.6 308.2,361.4 309.5,360.4 311,359.2 312.6,358.1 312.7,358 314.3,357 316.1,355.9 317.9,354.8 319.5,354 319.8,353.8 321.8,352.9 323.9,351.9 326,351 328.1,350.1 330.4,349.3 332.7,348.4 335.1,347.7 336.4,347.2 337.5,346.9 340,346.2 342.6,345.5 345.2,344.8 346.7,344.4 347.9,344.2 350.7,343.6 353.5,343 356.4,342.4 359.4,341.9 362.4,341.4 365.5,341 368.7,340.6 369.6,340.4 371.9,340.2 375.2,339.8 378.6,339.5 382.1,339.2 382.4,339.2 385.6,339 389.2,338.7 392.8,338.6 392.9,338.5 396.7,338.4 400.5,338.3 402,338.3 404.4,338.2 408.5,338.2 410.3,338.2 412.6,338.2 416.8,338.3 418,338.3 421.1,338.4 425.3,338.5 425.5,338.5 430,338.8 432.2,338.9 434.6,339 438.8,339.3 439.4,339.3 444.3,339.7 445.1,339.8 449.3,340.1 451.2,340.3 454.5,340.6 457,340.9 459.8,341.2 462.7,341.6 465.3,341.9 468.3,342.3 471,342.6 473.6,343 476.9,343.5 478.9,343.8 483,344.4 484,344.6 489,345.4 489.4,345.5 493.9,346.3 496.1,346.7 498.6,347.2 503.1,348.1 503.3,348.1 507.9,349.1 510.7,349.7 512.4,350.1 516.8,351.1 518.7,351.5 521.1,352.1 525.3,353.1 527.4,353.7 529.5,354.2 533.5,355.3 537.1,356.3" stroke="#f7c862"/>
<polyline points="633.5,401 635.1,402.3 637,404 638,405 638.8,405.7 640.5,407.4 641.6,408.5 642.2,409.2 643.8,410.9 644.4,411.7 645.2,412.7 646.6,414.5 646.8,414.7 647.9,416.4 648.7,417.5 649.2,418.2 650.3,420.1 650.3,420.1 651.2,422.1 651.5,422.6 652.1,424 652.5,424.9 652.8,426 653.2,427.1 653.4,428 653.7,429.3 653.9,430.1 654.1,431.3 654.2,432.2 654.3,433.3 654.3,434.4 654.3,435.2 654.2,436.6 654.1,437 653.9,438.8 653.9,438.9" stroke="#f7c862"/>
<polyline points="439.7,311.1 438.2,311 434.6,310.6 432.1,310.4 429.6,310.2 425.8,309.9 424.8,309.8 420,309.5 419.4,309.5" stroke="#f7c862"/>
<polyline points="222,362.8 221.9,363.2 221.6,365 221.5,365.1 221.3,366.7 221.2,367.4 221.1,368.5 221.1,369.6 221.1,370.4 221.1,371.8 221.1,372.3 221.2,374 221.3,374.3 221.5,376.1 221.5,376.3 221.9,378.2 221.9,378.4 222.4,380.2 222.5,380.5 223,382.3 223.1,382.7 223.7,384.3 224,385 224.5,386.3 225,387.4 225.4,388.2 226.2,389.8 226.3,390.1 227.4,392 227.5,392.3 228.5,393.9 229.2,395 229.7,395.8 231,397.6 231,397.7 232.3,399.5 233.2,400.6 233.7,401.3 235.1,403.1 235.6,403.7 236.7,404.9 238.3,406.6 238.5,406.9 239.9,408.4 241.6,410.1 241.8,410.3 243.4,411.8 245.2,413.5 245.7,414 247,415.2 248.9,416.9 250.3,418 250.9,418.5 252.9,420.2 255,421.8 255.9,422.5 257.1,423.4 259.2,425 261.5,426.6 262.9,427.6 263.7,428.2 266,429.8 268.3,431.4 270.7,432.9 272.4,433.9 273.2,434.4 275.6,436 278.1,437.5 280.7,439 283.3,440.5 285.9,441.9 288,443.1 288.6,443.4 291.3,444.9 294.1,446.3 296.9,447.7 299.7,449.2 302.6,450.6 305.5,452 308.5,453.4 311.5,454.7 314.5,456.1 317.6,457.5 320.7,458.8 323.9,460.1 327.1,461.5 330.4,462.8 331.3,463.1 333.6,464.1 337,465.4 340.3,466.7 343.7,467.9 347.2,469.2 350.7,470.4 352.1,470.9 354.2,471.7 357.8,472.9 361.4,474.1 365.1,475.3 366.7,475.8 368.8,476.5 372.6,477.7 376.4,478.8 378.9,479.5 380.3,480 384.2,481.1 388.1,482.2 389.6,482.6 392.1,483.3 396.2,484.4 399.4,485.3 400.3,485.5 404.4,486.6 408.4,487.6 408.6,487.6 412.9,488.7 416.9,489.6 417.2,489.7 421.6,490.7 424.9,491.4 426,491.7 430.5,492.7 432.5,493.1 435.1,493.6 439.7,494.6 439.8,494.6 444.4,495.5" stroke="#f7c862"/>
<polyline points="495.3,481.7 493.1,481.5 489.7,481.1 487.6,480.8 484.1,480.4 481.9,480.1 478.8,479.6 476.1,479.2 473.5,478.9 470,478.3 468.4,478.1 463.7,477.3 463.4,477.2 458.4,476.4 457.1,476.1 453.6,475.5 450.2,474.8 448.9,474.6 444.3,473.6 443,473.3 439.7,472.7 435.3,471.7 435.3,471.7 430.9,470.7 427.1,469.8 426.6,469.6 422.3,468.6 418.2,467.5 418.2,467.5 414.1,466.4 410,465.3 408.5,464.9 406.1,464.2 402.2,463.1 398.3,461.9 397.3,461.6 394.5,460.8 390.8,459.6 387.2,458.4 383.8,457.2 383.6,457.2 380,455.9 376.5,454.7 373.1,453.4 369.7,452.2 366.4,450.9 363.3,449.6 363.1,449.5 359.9,448.2 356.7,446.9 353.6,445.5 350.5,444.2 347.5,442.8 344.6,441.4 341.7,440 338.8,438.6 336,437.2 333.3,435.7 333.3,435.7 330.6,434.2 327.9,432.8 325.4,431.3 322.8,429.8 320.4,428.2 318,426.7 317.9,426.7 315.6,425.2 313.3,423.6 311,422 309.6,420.9 308.9,420.4 306.7,418.8 304.7,417.1 303.6,416.3 302.7,415.5 300.7,413.8 299,412.2 298.9,412.1 297.1,410.4 295.4,408.7 295.3,408.6 293.7,407 292.2,405.3 292.1,405.2 290.6,403.4 289.7,402.3 289.2,401.6 287.9,399.8 287.6,399.4 286.6,397.9 285.9,396.7 285.5,396 284.5,394.2 284.5,394.1 283.5,392.2 283.3,391.7 282.7,390.2 282.4,389.4 282,388.2 281.6,387.2 281.4,386.2 281.1,385 280.9,384.1 280.8,383 280.6,382 280.6,381 280.5,379.9 280.5,379.1 280.6,377.7 280.6,377.2 280.8,375.4 280.8,375.4 281.2,373.7 281.3,373.1 281.6,372 282.1,370.7 282.2,370.4 282.8,368.8 283.1,368.2 283.6,367.3 284.4,365.8 284.5,365.6 285.4,364.3 286.4,362.9 286.4,362.9 287.5,361.5 288.7,360.2 288.8,360.1 290,358.9 291.3,357.6 292.1,357 292.8,356.4 294.3,355.2 295.8,354 296.4,353.7 297.5,352.9 299.2,351.8 300.9,350.7 302.7,349.8 302.8,349.7 304.7,348.7 306.7,347.7 308.7,346.8 310.8,345.8 312.9,345 314.2,344.5 315.2,344.1 317.4,343.3 319.8,342.4 322.1,341.7 324.6,340.9 327.1,340.2 329.7,339.5 332.3,338.8 335,338.2 337.8,337.6 340.6,337 343.4,336.4 345.1,336.1 346.4,335.9 349.4,335.4 352.4,334.9 355.5,334.5 358.7,334 362,333.7 362.5,333.6 365.3,333.3 368.6,333 372.1,332.7 374.8,332.5 375.6,332.4 379.1,332.2 382.8,332 385.1,331.9 386.5,331.8 390.3,331.7 394.2,331.6 394.3,331.6 398.1,331.5 402.2,331.5 402.7,331.5 406.3,331.5 410.5,331.6 410.5,331.6 414.7,331.7 417.9,331.8 419.1,331.8 423.6,332 424.9,332.1 428.2,332.2 431.7,332.4 432.9,332.5 437.7,332.9 438.1,332.9 442.6,333.2 444.3,333.4 447.6,333.7 450.4,334 452.8,334.2 456.2,334.6 458.2,334.8 461.9,335.2 463.6,335.4 467.4,335.9 469.3,336.2 472.8,336.7 475.2,337 478,337.4 481.2,337.9 483.2,338.2 487.5,338.9 488.2,339.1 493.1,339.9 494,340.1 498,340.8 500.9,341.4 502.7,341.7 507.3,342.7 508.1,342.8" stroke="#fae156"/>
<polyline points="662.5,414.4 662.6,414.6 663.9,416.4 664.5,417.3 665.2,418.3 666.2,419.9 666.3,420.2 667.4,422.1 667.6,422.5 668.3,424 668.7,424.9 669.2,426 669.6,427.2 669.9,428 670.3,429.4 670.5,430 670.8,431.5 670.9,432.1 671.2,433.6 671.2,434.2" stroke="#fae156"/>
<polyline points="457.2,319.2 456.5,319.1 451.8,318.6 450.8,318.5 446.5,318 445,317.9 441.4,317.5 439,317.3 436.3,317.1 432.8,316.8 431.4,316.7 426.5,316.3 426.5,316.3 421.7,316 419.9,315.9 417.1,315.7 413.2,315.5 412.5,315.5 408,315.3 406.1,315.2 403.6,315.2 399.3,315 398.8,315" stroke="#fae156"/>
<polyline points="242.5,357.3 242.3,357.6 241.5,359.1 241.2,359.8 240.8,360.7 240.1,362.3 240.1,362.3 239.6,363.9 239.3,364.7 239.1,365.6 238.8,367.1 238.7,367.3 238.4,369 238.4,369.3 238.3,370.8 238.2,371.6 238.2,372.7 238.2,373.8 238.2,374.6 238.3,375.9 238.3,376.5 238.5,378.1 238.6,378.6 238.9,380.2 239,380.6 239.4,382.2 239.6,382.8 240,384.2 240.3,385 240.8,386.2 241.2,387.3 241.6,388.2 242.3,389.7 242.5,390.1 243.5,392.1 243.5,392.2 244.5,394 245,394.8 245.7,395.8 246.8,397.5 246.9,397.7 248.3,399.5 248.8,400.3 249.6,401.4 251.1,403.2 251.2,403.3 252.6,404.9 254,406.5 254.2,406.7 255.8,408.4 257.3,409.9 257.5,410.2 259.3,411.9 261.1,413.6 261.1,413.6 263,415.3 264.9,416.9 265.7,417.6 266.9,418.6 269,420.2 271.1,421.9 271.4,422.1 273.2,423.5 275.4,425.1 277.6,426.6 278.8,427.4 279.9,428.2 282.3,429.8 284.6,431.3 287.1,432.9 289.2,434.1 289.5,434.4 292.1,435.9 294.6,437.4 297.3,438.9 299.9,440.3 302.6,441.8 305.3,443.3 308.1,444.7 311,446.1 312.1,446.7 313.8,447.5 316.8,448.9 319.7,450.3 322.7,451.7 325.8,453.1 327.9,454 328.9,454.4 332,455.8 335.2,457.1 338.4,458.4 341.7,459.7 345,461 348.3,462.3 351.7,463.6 355.2,464.8 355.9,465.1 358.7,466.1 362.2,467.3 365.8,468.5 369.4,469.8 371.5,470.4 373.1,471 376.8,472.1 380.6,473.3 384,474.3 384.4,474.5 388.3,475.6 392.2,476.7 394.8,477.5 396.2,477.9 400.2,479 404.3,480 404.6,480.1 408.4,481.1 412.6,482.2 413.6,482.4 416.9,483.2 421.2,484.2 422,484.4 425.6,485.2 429.9,486.2 430,486.2 434.6,487.2 437.5,487.8 439.1,488.2 443.8,489.1 444.7,489.3 448.5,490 451.6,490.6 453.3,490.9 458.2,491.8" stroke="#fae156"/>
</g>
<g fill="#fff" stroke-width="1.6" stroke-linejoin="round" filter="url(#bl)">
<polygon points="431.6,79.6 441.9,90 430,98 419.7,90.3" stroke="#fdd85a"/>
<polygon points="421.3,70.9 431.6,79.6 419.7,90.3 409.4,81.7" stroke="#f7e852"/>
<polygon points="411,64.3 421.3,70.9 409.4,81.7 399.1,73.8" stroke="#f8f44b"/>
<polygon points="400.7,61.3 411,64.3 399.1,73.8 388.8,67.9" stroke="#fafc43"/>
<polygon points="390.4,69.5 400.7,61.3 388.8,67.9 378.5,63.7" stroke="#f8f54b"/>
<polygon points="380.1,78.6 390.4,69.5 378.5,63.7 368.2,61.6" stroke="#f7ed50"/>
<polygon points="369.8,86.9 380.1,78.6 368.2,61.6 357.9,65.5" stroke="#f8e554"/>
<polygon points="359.5,94.3 369.8,86.9 357.9,65.5 347.6,71.8" stroke="#fadf57"/>
<polygon points="349.2,100.4 359.5,94.3 347.6,71.8 337.3,77.3" stroke="#fcda59"/>
<polygon points="338.9,105 349.2,100.4 337.3,77.3 327,81.5" stroke="#fdd85a"/>
<polygon points="328.6,108 338.9,105 327,81.5 316.7,84.4" stroke="#fdd85a"/>
<polygon points="318.3,109.3 328.6,108 316.7,84.4 306.4,86.1" stroke="#fdda59"/>
<polygon points="308,109.1 318.3,109.3 306.4,86.1 296.1,86.4" stroke="#fbde57"/>
<polygon points="297.7,107.5 308,109.1 296.1,86.4 285.8,85.8" stroke="#f8e454"/>
<polygon points="287.4,104.9 297.7,107.5 285.8,85.8 275.5,86.4" stroke="#f7eb51"/>
<polygon points="277.1,101.7 287.4,104.9 275.5,86.4 265.2,92.9" stroke="#f8f34c"/>
<polygon points="266.8,98.1 277.1,101.7 265.2,92.9 254.8,102.5" stroke="#fafb44"/>
<polygon points="256.5,104 266.8,98.1 254.8,102.5 244.5,113.6" stroke="#f9f749"/>
<polygon points="246.2,116 256.5,104 244.5,113.6 234.2,126.5" stroke="#f7eb51"/>
<polygon points="235.9,129.8 246.2,116 234.2,126.5 223.9,140.8" stroke="#fbdc58"/>
<polygon points="225.6,145.6 235.9,129.8 223.9,140.8 213.6,154.2" stroke="#fecb63"/>
<polygon points="215.3,160.7 225.6,145.6 213.6,154.2 203.3,167.6" stroke="#eac957"/>
<polygon points="205,175.1 215.3,160.7 203.3,167.6 193,183.1" stroke="#cecf56"/>
<polygon points="194.7,191.6 205,175.1 193,183.1 182.7,200" stroke="#a6d571"/>
<polygon points="184.4,209.5 194.7,191.6 182.7,200 172.4,217.2" stroke="#78d695"/>
<polygon points="174.1,227.7 184.4,209.5 172.4,217.2 162.1,234.5" stroke="#5ad1b3"/>
<polygon points="163.8,245.8 174.1,227.7 162.1,234.5 151.8,252" stroke="#3acacb"/>
<polygon points="153.5,264.2 163.8,245.8 151.8,252 141.5,270.4" stroke="#43bfe0"/>
<polygon points="143.1,283.4 153.5,264.2 141.5,270.4 131.2,289.5" stroke="#50b0ec"/>
<polygon points="132.8,303.3 143.1,283.4 131.2,289.5 120.9,308.3" stroke="#589df9"/>
<polygon points="122.5,322.2 132.8,303.3 120.9,308.3 110.6,326.4" stroke="#6789fe"/>
<polygon points="112.2,341 122.5,322.2 110.6,326.4 100.3,345.3" stroke="#6c75f6"/>
<polygon points="101.9,360.6 112.2,341 100.3,345.3 90,364.9" stroke="#6b61e1"/>
<polygon points="443.6,70.5 453.9,80.3 441.9,90 431.6,79.6" stroke="#f7ec51"/>
<polygon points="433.3,62.9 443.6,70.5 431.6,79.6 421.3,70.9" stroke="#fafa46"/>
<polygon points="423,67.6 433.3,62.9 421.3,70.9 411,64.3" stroke="#f9f748"/>
<polygon points="412.7,79.2 423,67.6 411,64.3 400.7,61.3" stroke="#f7ec51"/>
<polygon points="402.4,90.5 412.7,79.2 400.7,61.3 390.4,69.5" stroke="#fae056"/>
<polygon points="392.1,101.6 402.4,90.5 390.4,69.5 380.1,78.6" stroke="#fed55c"/>
<polygon points="381.8,111.6 392.1,101.6 380.1,78.6 369.8,86.9" stroke="#fecc62"/>
<polygon points="371.4,119.8 381.8,111.6 369.8,86.9 359.5,94.3" stroke="#f8c863"/>
<polygon points="361.1,126.2 371.4,119.8 359.5,94.3 349.2,100.4" stroke="#f2c85d"/>
<polygon points="350.8,130.9 361.1,126.2 349.2,100.4 338.9,105" stroke="#eec859"/>
<polygon points="340.5,133.8 350.8,130.9 338.9,105 328.6,108" stroke="#edc859"/>
<polygon points="330.2,135.1 340.5,133.8 328.6,108 318.3,109.3" stroke="#f0c85c"/>
<polygon points="319.9,134.7 330.2,135.1 318.3,109.3 308,109.1" stroke="#f6c861"/>
<polygon points="309.6,132.4 319.9,134.7 308,109.1 297.7,107.5" stroke="#feca63"/>
<polygon points="299.3,128.3 309.6,132.4 297.7,107.5 287.4,104.9" stroke="#fed35d"/>
<polygon points="289,123 299.3,128.3 287.4,104.9 277.1,101.7" stroke="#fbde57"/>
<polygon points="278.7,117.3 289,123 277.1,101.7 266.8,98.1" stroke="#f7e952"/>
<polygon points="268.4,111.4 278.7,117.3 266.8,98.1 256.5,104" stroke="#f8f54b"/>
<polygon points="258.1,108.9 268.4,111.4 256.5,104 246.2,116" stroke="#fafb44"/>
<polygon points="247.8,121.1 258.1,108.9 246.2,116 235.9,129.8" stroke="#f7ef4f"/>
<polygon points="237.5,135.8 247.8,121.1 235.9,129.8 225.6,145.6" stroke="#fadf56"/>
<polygon points="227.2,152.9 237.5,135.8 225.6,145.6 215.3,160.7" stroke="#fecc62"/>
<polygon points="216.9,169.2 227.2,152.9 215.3,160.7 205,175.1" stroke="#e9c956"/>
<polygon points="206.6,184.6 216.9,169.2 205,175.1 194.7,191.6" stroke="#cbcf58"/>
<polygon points="196.3,202.4 206.6,184.6 194.7,191.6 184.4,209.5" stroke="#9ed677"/>
<polygon points="186,221.2 196.3,202.4 184.4,209.5 174.1,227.7" stroke="#6fd69c"/>
<polygon points="175.7,240.2 186,221.2 174.1,227.7 163.8,245.8" stroke="#54cfba"/>
<polygon points="165.4,258.9 175.7,240.2 163.8,245.8 153.5,264.2" stroke="#34c7d2"/>
<polygon points="155.1,278.3 165.4,258.9 153.5,264.2 143.1,283.4" stroke="#4abbe6"/>
<polygon points="144.8,298.3 155.1,278.3 143.1,283.4 132.8,303.3" stroke="#54a9f1"/>
<polygon points="134.5,318.6 144.8,298.3 132.8,303.3 122.5,322.2" stroke="#5c95fd"/>
<polygon points="124.2,337.5 134.5,318.6 122.5,322.2 112.2,341" stroke="#6b80fc"/>
<polygon points="113.9,357.2 124.2,337.5 112.2,341 101.9,360.6" stroke="#6c6bef"/>
<polygon points="455.5,64.5 465.8,72.6 453.9,80.3 443.6,70.5" stroke="#fafb44"/>
<polygon points="445.2,73.6 455.5,64.5 443.6,70.5 433.3,62.9" stroke="#f8f34c"/>
<polygon points="434.9,86.8 445.2,73.6 433.3,62.9 423,67.6" stroke="#f8e554"/>
<polygon points="424.6,100.6 434.9,86.8 423,67.6 412.7,79.2" stroke="#fdd65b"/>
<polygon points="414.3,114.1 424.6,100.6 412.7,79.2 402.4,90.5" stroke="#fcc964"/>
<polygon points="404,125.7 414.3,114.1 402.4,90.5 392.1,101.6" stroke="#edc859"/>
<polygon points="393.7,135.5 404,125.7 392.1,101.6 381.8,111.6" stroke="#ddcb53"/>
<polygon points="383.4,143.8 393.7,135.5 381.8,111.6 371.4,119.8" stroke="#d0ce55"/>
<polygon points="373.1,150.4 383.4,143.8 371.4,119.8 361.1,126.2" stroke="#c5d05b"/>
<polygon points="362.8,155.2 373.1,150.4 361.1,126.2 350.8,130.9" stroke="#bfd15e"/>
<polygon points="352.5,158.2 362.8,155.2 350.8,130.9 340.5,133.8" stroke="#bfd15f"/>
<polygon points="342.2,159.3 352.5,158.2 340.5,133.8 330.2,135.1" stroke="#c4d15c"/>
<polygon points="331.9,158.7 342.2,159.3 330.2,135.1 319.9,134.7" stroke="#cdcf57"/>
<polygon points="321.6,156.4 331.9,158.7 319.9,134.7 309.6,132.4" stroke="#dacc52"/>
<polygon points="311.3,152.5 321.6,156.4 309.6,132.4 299.3,128.3" stroke="#e9c956"/>
<polygon points="301,146.9 311.3,152.5 299.3,128.3 289,123" stroke="#fac864"/>
<polygon points="290.7,139.3 301,146.9 289,123 278.7,117.3" stroke="#fed35d"/>
<polygon points="280.4,131 290.7,139.3 278.7,117.3 268.4,111.4" stroke="#f9e255"/>
<polygon points="270.1,123.3 280.4,131 268.4,111.4 258.1,108.9" stroke="#f7f04e"/>
<polygon points="259.7,117 270.1,123.3 258.1,108.9 247.8,121.1" stroke="#fafc43"/>
<polygon points="249.4,128.5 259.7,117 247.8,121.1 237.5,135.8" stroke="#f7f04e"/>
<polygon points="239.1,144.3 249.4,128.5 237.5,135.8 227.2,152.9" stroke="#fadf57"/>
<polygon points="228.8,162.8 239.1,144.3 227.2,152.9 216.9,169.2" stroke="#fecb63"/>
<polygon points="218.5,179.7 228.8,162.8 216.9,169.2 206.6,184.6" stroke="#e5ca54"/>
<polygon points="208.2,196.2 218.5,179.7 206.6,184.6 196.3,202.4" stroke="#c2d15d"/>
<polygon points="197.9,215.4 208.2,196.2 196.3,202.4 186,221.2" stroke="#90d782"/>
<polygon points="187.6,235 197.9,215.4 186,221.2 175.7,240.2" stroke="#63d4a7"/>
<polygon points="177.3,254.5 187.6,235 175.7,240.2 165.4,258.9" stroke="#48ccc3"/>
<polygon points="167,273.9 177.3,254.5 165.4,258.9 155.1,278.3" stroke="#3bc3db"/>
<polygon points="156.7,294.1 167,273.9 155.1,278.3 144.8,298.3" stroke="#4fb3ea"/>
<polygon points="146.4,315 156.7,294.1 144.8,298.3 134.5,318.6" stroke="#57a0f8"/>
<polygon points="136.1,334.9 146.4,315 134.5,318.6 124.2,337.5" stroke="#668afe"/>
<polygon points="125.8,354.5 136.1,334.9 124.2,337.5 113.9,357.2" stroke="#6c75f7"/>
<polygon points="467.4,77.1 477.7,67.5 465.8,72.6 455.5,64.5" stroke="#f7f24d"/>
<polygon points="457.1,91.8 467.4,77.1 455.5,64.5 445.2,73.6" stroke="#f9e255"/>
<polygon points="446.8,107.8 457.1,91.8 445.2,73.6 434.9,86.8" stroke="#fed05f"/>
<polygon points="436.5,123 446.8,107.8 434.9,86.8 424.6,100.6" stroke="#f2c85d"/>
<polygon points="426.2,136.3 436.5,123 424.6,100.6 414.3,114.1" stroke="#dbcc52"/>
<polygon points="415.9,148.2 426.2,136.3 414.3,114.1 404,125.7" stroke="#c3d15c"/>
<polygon points="405.6,158.6 415.9,148.2 404,125.7 393.7,135.5" stroke="#add46b"/>
<polygon points="395.3,167.3 405.6,158.6 393.7,135.5 383.4,143.8" stroke="#9bd679"/>
<polygon points="385,174.2 395.3,167.3 383.4,143.8 373.1,150.4" stroke="#8dd783"/>
<polygon points="374.7,179.3 385,174.2 373.1,150.4 362.8,155.2" stroke="#87d789"/>
<polygon points="364.4,182.3 374.7,179.3 362.8,155.2 352.5,158.2" stroke="#86d789"/>
<polygon points="354.1,183.3 364.4,182.3 352.5,158.2 342.2,159.3" stroke="#8bd785"/>
<polygon points="343.8,182.3 354.1,183.3 342.2,159.3 331.9,158.7" stroke="#97d67c"/>
<polygon points="333.5,179.5 343.8,182.3 331.9,158.7 321.6,156.4" stroke="#a9d56f"/>
<polygon points="323.2,175 333.5,179.5 321.6,156.4 311.3,152.5" stroke="#bed25f"/>
<polygon points="312.9,169 323.2,175 311.3,152.5 301,146.9" stroke="#d6cd53"/>
<polygon points="302.6,161.7 312.9,169 301,146.9 290.7,139.3" stroke="#edc859"/>
<polygon points="292.3,152.5 302.6,161.7 290.7,139.3 280.4,131" stroke="#fecd62"/>
<polygon points="282,142 292.3,152.5 280.4,131 270.1,123.3" stroke="#fbde57"/>
<polygon points="271.7,132.5 282,142 270.1,123.3 259.7,117" stroke="#f7ef4f"/>
<polygon points="261.4,125.3 271.7,132.5 259.7,117 249.4,128.5" stroke="#fafc43"/>
<polygon points="251.1,138.2 261.4,125.3 249.4,128.5 239.1,144.3" stroke="#f7ef4f"/>
<polygon points="240.8,155.5 251.1,138.2 239.1,144.3 228.8,162.8" stroke="#fcdb58"/>
<polygon points="230.5,175 240.8,155.5 228.8,162.8 218.5,179.7" stroke="#f9c863"/>
<polygon points="220.2,192.1 230.5,175 218.5,179.7 208.2,196.2" stroke="#dbcc52"/>
<polygon points="209.9,210.2 220.2,192.1 208.2,196.2 197.9,215.4" stroke="#b1d468"/>
<polygon points="199.6,230.4 209.9,210.2 197.9,215.4 187.6,235" stroke="#7cd792"/>
<polygon points="189.3,250.6 199.6,230.4 187.6,235 177.3,254.5" stroke="#59d1b5"/>
<polygon points="179,270.4 189.3,250.6 177.3,254.5 167,273.9" stroke="#35c8cf"/>
<polygon points="168.7,290.8 179,270.4 167,273.9 156.7,294.1" stroke="#48bce4"/>
<polygon points="158.4,311.8 168.7,290.8 156.7,294.1 146.4,315" stroke="#54aaf0"/>
<polygon points="148,332.8 158.4,311.8 146.4,315 136.1,334.9" stroke="#5d94fd"/>
<polygon points="137.7,352.6 148,332.8 136.1,334.9 125.8,354.5" stroke="#6b7efc"/>
<polygon points="479.4,93.9 489.7,77.9 477.7,67.5 467.4,77.1" stroke="#f8e355"/>
<polygon points="469.1,111.5 479.4,93.9 467.4,77.1 457.1,91.8" stroke="#fecf60"/>
<polygon points="458.8,128.4 469.1,111.5 457.1,91.8 446.8,107.8" stroke="#edc859"/>
<polygon points="448.5,143.5 458.8,128.4 446.8,107.8 436.5,123" stroke="#d0ce55"/>
<polygon points="438.2,157.5 448.5,143.5 436.5,123 426.2,136.3" stroke="#b0d469"/>
<polygon points="427.9,170.1 438.2,157.5 426.2,136.3 415.9,148.2" stroke="#92d680"/>
<polygon points="417.6,181.3 427.9,170.1 415.9,148.2 405.6,158.6" stroke="#79d694"/>
<polygon points="407.3,190.8 417.6,181.3 405.6,158.6 395.3,167.3" stroke="#68d5a3"/>
<polygon points="397,198.4 407.3,190.8 395.3,167.3 385,174.2" stroke="#5fd3ac"/>
<polygon points="386.7,203.7 397,198.4 385,174.2 374.7,179.3" stroke="#5cd2b1"/>
<polygon points="376.3,206.8 386.7,203.7 374.7,179.3 364.4,182.3" stroke="#5cd2b1"/>
<polygon points="366,207.5 376.3,206.8 364.4,182.3 354.1,183.3" stroke="#5ed3ad"/>
<polygon points="355.7,206 366,207.5 354.1,183.3 343.8,182.3" stroke="#65d4a5"/>
<polygon points="345.4,202.4 355.7,206 343.8,182.3 333.5,179.5" stroke="#75d698"/>
<polygon points="335.1,197.1 345.4,202.4 333.5,179.5 323.2,175" stroke="#8bd785"/>
<polygon points="324.8,190.4 335.1,197.1 323.2,175 312.9,169" stroke="#a9d56e"/>
<polygon points="314.5,182.3 324.8,190.4 312.9,169 302.6,161.7" stroke="#c9d059"/>
<polygon points="304.2,173 314.5,182.3 302.6,161.7 292.3,152.5" stroke="#e7c955"/>
<polygon points="293.9,162.2 304.2,173 292.3,152.5 282,142" stroke="#fecb63"/>
<polygon points="283.6,149.9 293.9,162.2 282,142 271.7,132.5" stroke="#fadf57"/>
<polygon points="273.3,139.4 283.6,149.9 271.7,132.5 261.4,125.3" stroke="#f7f14e"/>
<polygon points="263,134.2 273.3,139.4 261.4,125.3 251.1,138.2" stroke="#fafb44"/>
<polygon points="252.7,150.2 263,134.2 251.1,138.2 240.8,155.5" stroke="#f7ea52"/>
<polygon points="242.4,169.5 252.7,150.2 240.8,155.5 230.5,175" stroke="#fed35d"/>
<polygon points="232.1,189.1 242.4,169.5 230.5,175 220.2,192.1" stroke="#eec85a"/>
<polygon points="221.8,206.5 232.1,189.1 220.2,192.1 209.9,210.2" stroke="#cbcf57"/>
<polygon points="211.5,226.5 221.8,206.5 209.9,210.2 199.6,230.4" stroke="#98d67b"/>
<polygon points="201.2,247.3 211.5,226.5 199.6,230.4 189.3,250.6" stroke="#66d5a4"/>
<polygon points="190.9,267.9 201.2,247.3 189.3,250.6 179,270.4" stroke="#49ccc3"/>
<polygon points="180.6,288.3 190.9,267.9 179,270.4 168.7,290.8" stroke="#3cc2dc"/>
<polygon points="170.3,309.4 180.6,288.3 168.7,290.8 158.4,311.8" stroke="#50b2eb"/>
<polygon points="160,331.1 170.3,309.4 158.4,311.8 148,332.8" stroke="#589df9"/>
<polygon points="149.7,351.5 160,331.1 148,332.8 137.7,352.6" stroke="#6887fe"/>
<polygon points="491.3,111.7 501.6,93.1 489.7,77.9 479.4,93.9" stroke="#fed35d"/>
<polygon points="481,130.3 491.3,111.7 479.4,93.9 469.1,111.5" stroke="#efc85a"/>
<polygon points="470.7,147.2 481,130.3 469.1,111.5 458.8,128.4" stroke="#cecf56"/>
<polygon points="460.4,163.1 470.7,147.2 458.8,128.4 448.5,143.5" stroke="#a8d570"/>
<polygon points="450.1,177.9 460.4,163.1 448.5,143.5 438.2,157.5" stroke="#82d78c"/>
<polygon points="439.8,191.7 450.1,177.9 438.2,157.5 427.9,170.1" stroke="#65d5a5"/>
<polygon points="429.5,203.9 439.8,191.7 427.9,170.1 417.6,181.3" stroke="#58d0b6"/>
<polygon points="419.2,214 429.5,203.9 417.6,181.3 407.3,190.8" stroke="#4bcdc1"/>
<polygon points="408.9,221.8 419.2,214 407.3,190.8 397,198.4" stroke="#3ecbc9"/>
<polygon points="398.6,227.3 408.9,221.8 397,198.4 386.7,203.7" stroke="#38c9cd"/>
<polygon points="388.3,230.4 398.6,227.3 386.7,203.7 376.3,206.8" stroke="#37c9cd"/>
<polygon points="378,231 388.3,230.4 376.3,206.8 366,207.5" stroke="#3ccaca"/>
<polygon points="367.7,229.2 378,231 366,207.5 355.7,206" stroke="#48ccc3"/>
<polygon points="357.4,225.2 367.7,229.2 355.7,206 345.4,202.4" stroke="#56cfb9"/>
<polygon points="347.1,219 357.4,225.2 345.4,202.4 335.1,197.1" stroke="#62d4a9"/>
<polygon points="336.8,211.1 347.1,219 335.1,197.1 324.8,190.4" stroke="#7bd692"/>
<polygon points="326.5,202 336.8,211.1 324.8,190.4 314.5,182.3" stroke="#9fd676"/>
<polygon points="316.2,192 326.5,202 314.5,182.3 304.2,173" stroke="#c5d05b"/>
<polygon points="305.9,180.9 316.2,192 304.2,173 293.9,162.2" stroke="#e8c956"/>
<polygon points="295.6,168.3 305.9,180.9 293.9,162.2 283.6,149.9" stroke="#fece61"/>
<polygon points="285.3,154.9 295.6,168.3 283.6,149.9 273.3,139.4" stroke="#f8e354"/>
<polygon points="275,143.5 285.3,154.9 273.3,139.4 263,134.2" stroke="#f8f649"/>
<polygon points="264.6,147 275,143.5 263,134.2 252.7,150.2" stroke="#f8f54a"/>
<polygon points="254.3,165 264.6,147 252.7,150.2 242.4,169.5" stroke="#f9e156"/>
<polygon points="244,186 254.3,165 242.4,169.5 232.1,189.1" stroke="#fdca64"/>
<polygon points="233.7,204.6 244,186 232.1,189.1 221.8,206.5" stroke="#decb53"/>
<polygon points="223.4,223.6 233.7,204.6 221.8,206.5 211.5,226.5" stroke="#b2d367"/>
<polygon points="213.1,244.9 223.4,223.6 211.5,226.5 201.2,247.3" stroke="#7ad693"/>
<polygon points="202.8,266.1 213.1,244.9 201.2,247.3 190.9,267.9" stroke="#57d0b7"/>
<polygon points="192.5,286.7 202.8,266.1 190.9,267.9 180.6,288.3" stroke="#34c7d2"/>
<polygon points="182.2,307.9 192.5,286.7 180.6,288.3 170.3,309.4" stroke="#4bb9e7"/>
<polygon points="171.9,329.8 182.2,307.9 170.3,309.4 160,331.1" stroke="#56a5f4"/>
<polygon points="161.6,351.2 171.9,329.8 160,331.1 149.7,351.5" stroke="#638eff"/>
<polygon points="503.3,128.8 513.6,108.5 501.6,93.1 491.3,111.7" stroke="#f7c861"/>
<polygon points="492.9,147.3 503.3,128.8 491.3,111.7 481,130.3" stroke="#d5cd54"/>
<polygon points="482.6,164.9 492.9,147.3 481,130.3 470.7,147.2" stroke="#aad46d"/>
<polygon points="472.3,181.7 482.6,164.9 470.7,147.2 460.4,163.1" stroke="#7fd78f"/>
<polygon points="462,197.9 472.3,181.7 460.4,163.1 450.1,177.9" stroke="#60d3ab"/>
<polygon points="451.7,212.6 462,197.9 450.1,177.9 439.8,191.7" stroke="#4fcebf"/>
<polygon points="441.4,225.2 451.7,212.6 439.8,191.7 429.5,203.9" stroke="#36c9ce"/>
<polygon points="431.1,236.2 441.4,225.2 429.5,203.9 419.2,214" stroke="#39c4d9"/>
<polygon points="420.8,245.2 431.1,236.2 419.2,214 408.9,221.8" stroke="#44bfe1"/>
<polygon points="410.5,251.5 420.8,245.2 408.9,221.8 398.6,227.3" stroke="#48bce4"/>
<polygon points="400.2,254.6 410.5,251.5 398.6,227.3 388.3,230.4" stroke="#48bce4"/>
<polygon points="389.9,254.6 400.2,254.6 388.3,230.4 378,231" stroke="#46bee2"/>
<polygon points="379.6,251.7 389.9,254.6 378,231 367.7,229.2" stroke="#3cc3db"/>
<polygon points="369.3,246.7 379.6,251.7 367.7,229.2 357.4,225.2" stroke="#34c8d1"/>
<polygon points="359,240 369.3,246.7 357.4,225.2 347.1,219" stroke="#49ccc3"/>
<polygon points="348.7,231.3 359,240 347.1,219 336.8,211.1" stroke="#5cd2b0"/>
<polygon points="338.4,221 348.7,231.3 336.8,211.1 326.5,202" stroke="#77d696"/>
<polygon points="328.1,209.8 338.4,221 326.5,202 316.2,192" stroke="#a1d575"/>
<polygon points="317.8,198 328.1,209.8 316.2,192 305.9,180.9" stroke="#cccf57"/>
<polygon points="307.5,185.3 317.8,198 305.9,180.9 295.6,168.3" stroke="#f0c85b"/>
<polygon points="297.2,170.9 307.5,185.3 295.6,168.3 285.3,154.9" stroke="#fed55c"/>
<polygon points="286.9,157.3 297.2,170.9 285.3,154.9 275,143.5" stroke="#f7eb51"/>
<polygon points="276.6,147.5 286.9,157.3 275,143.5 264.6,147" stroke="#fafc43"/>
<polygon points="266.3,162.5 276.6,147.5 264.6,147 254.3,165" stroke="#f7ec51"/>
<polygon points="256,182.8 266.3,162.5 254.3,165 244,186" stroke="#fed45c"/>
<polygon points="245.7,203.6 256,182.8 244,186 233.7,204.6" stroke="#edc859"/>
<polygon points="235.4,222 245.7,203.6 233.7,204.6 223.4,223.6" stroke="#c7d05a"/>
<polygon points="225.1,243.3 235.4,222 223.4,223.6 213.1,244.9" stroke="#8fd782"/>
<polygon points="214.8,264.9 225.1,243.3 213.1,244.9 202.8,266.1" stroke="#5fd3ac"/>
<polygon points="204.5,286.1 214.8,264.9 202.8,266.1 192.5,286.7" stroke="#3dcac9"/>
<polygon points="194.2,307.3 204.5,286.1 192.5,286.7 182.2,307.9" stroke="#45bee2"/>
<polygon points="183.9,329.3 194.2,307.3 182.2,307.9 171.9,329.8" stroke="#52acef"/>
<polygon points="173.6,351.4 183.9,329.3 171.9,329.8 161.6,351.2" stroke="#5c95fd"/>
<polygon points="515.2,144 525.5,123.7 513.6,108.5 503.3,128.8" stroke="#e3ca54"/>
<polygon points="504.9,163 515.2,144 503.3,128.8 492.9,147.3" stroke="#b8d363"/>
<polygon points="494.6,181.4 504.9,163 492.9,147.3 482.6,164.9" stroke="#88d787"/>
<polygon points="484.3,199.5 494.6,181.4 482.6,164.9 472.3,181.7" stroke="#62d4a9"/>
<polygon points="474,216.5 484.3,199.5 472.3,181.7 462,197.9" stroke="#4ccdc1"/>
<polygon points="463.7,231.8 474,216.5 462,197.9 451.7,212.6" stroke="#34c6d3"/>
<polygon points="453.4,246.3 463.7,231.8 451.7,212.6 441.4,225.2" stroke="#46bee2"/>
<polygon points="443.1,259.2 453.4,246.3 441.4,225.2 431.1,236.2" stroke="#4eb4e9"/>
<polygon points="432.8,269.2 443.1,259.2 431.1,236.2 420.8,245.2" stroke="#52adee"/>
<polygon points="422.5,276 432.8,269.2 420.8,245.2 410.5,251.5" stroke="#54a9f1"/>
<polygon points="412.2,279.1 422.5,276 410.5,251.5 400.2,254.6" stroke="#55a9f1"/>
<polygon points="401.9,278.7 412.2,279.1 400.2,254.6 389.9,254.6" stroke="#52acef"/>
<polygon points="391.6,275 401.9,278.7 389.9,254.6 379.6,251.7" stroke="#4fb3ea"/>
<polygon points="381.2,268.3 391.6,275 379.6,251.7 369.3,246.7" stroke="#48bce4"/>
<polygon points="370.9,259.5 381.2,268.3 369.3,246.7 359,240" stroke="#36c5d7"/>
<polygon points="360.6,250 370.9,259.5 359,240 348.7,231.3" stroke="#45ccc5"/>
<polygon points="350.3,239 360.6,250 348.7,231.3 338.4,221" stroke="#5dd2af"/>
<polygon points="340,226.6 350.3,239 338.4,221 328.1,209.8" stroke="#7ed790"/>
<polygon points="329.7,213.8 340,226.6 328.1,209.8 317.8,198" stroke="#aed46b"/>
<polygon points="319.4,200.5 329.7,213.8 317.8,198 307.5,185.3" stroke="#dbcc52"/>
<polygon points="309.1,186.3 319.4,200.5 307.5,185.3 297.2,170.9" stroke="#fcca64"/>
<polygon points="298.8,170.7 309.1,186.3 297.2,170.9 286.9,157.3" stroke="#f9e156"/>
<polygon points="288.5,157.8 298.8,170.7 286.9,157.3 276.6,147.5" stroke="#f8f64a"/>
<polygon points="278.2,161.7 288.5,157.8 276.6,147.5 266.3,162.5" stroke="#f8f44b"/>
<polygon points="267.9,181 278.2,161.7 266.3,162.5 256,182.8" stroke="#fbde57"/>
<polygon points="257.6,203 267.9,181 256,182.8 245.7,203.6" stroke="#f8c863"/>
<polygon points="247.3,222 257.6,203 245.7,203.6 235.4,222" stroke="#d6cd53"/>
<polygon points="237,242.6 247.3,222 235.4,222 225.1,243.3" stroke="#a3d573"/>
<polygon points="226.7,264.7 237,242.6 225.1,243.3 214.8,264.9" stroke="#6bd5a0"/>
<polygon points="216.4,286.4 226.7,264.7 214.8,264.9 204.5,286.1" stroke="#4bcdc1"/>
<polygon points="206.1,307.7 216.4,286.4 204.5,286.1 194.2,307.3" stroke="#3dc2dc"/>
<polygon points="195.8,329.7 206.1,307.7 194.2,307.3 183.9,329.3" stroke="#50b1eb"/>
<polygon points="185.5,352.2 195.8,329.7 183.9,329.3 173.6,351.4" stroke="#589bfb"/>
<polygon points="527.1,157.5 537.4,137.3 525.5,123.7 515.2,144" stroke="#d0ce55"/>
<polygon points="516.8,177.2 527.1,157.5 515.2,144 504.9,163" stroke="#9ed677"/>
<polygon points="506.5,196.6 516.8,177.2 504.9,163 494.6,181.4" stroke="#6dd69e"/>
<polygon points="496.2,215.6 506.5,196.6 494.6,181.4 484.3,199.5" stroke="#53cfbb"/>
<polygon points="485.9,233.2 496.2,215.6 484.3,199.5 474,216.5" stroke="#34c7d1"/>
<polygon points="475.6,250.6 485.9,233.2 474,216.5 463.7,231.8" stroke="#47bde3"/>
<polygon points="465.3,267 475.6,250.6 463.7,231.8 453.4,246.3" stroke="#51afec"/>
<polygon points="455,281 465.3,267 453.4,246.3 443.1,259.2" stroke="#57a3f5"/>
<polygon points="444.7,292 455,281 443.1,259.2 432.8,269.2" stroke="#599afb"/>
<polygon points="434.4,299.3 444.7,292 432.8,269.2 422.5,276" stroke="#5d94fd"/>
<polygon points="424.1,302.6 434.4,299.3 422.5,276 412.2,279.1" stroke="#5e93fe"/>
<polygon points="413.8,301.7 424.1,302.6 412.2,279.1 401.9,278.7" stroke="#5a98fc"/>
<polygon points="403.5,297 413.8,301.7 401.9,278.7 391.6,275" stroke="#57a1f7"/>
<polygon points="393.2,289.2 403.5,297 391.6,275 381.2,268.3" stroke="#52adee"/>
<polygon points="382.9,278.8 393.2,289.2 381.2,268.3 370.9,259.5" stroke="#4abae6"/>
<polygon points="372.6,267 382.9,278.8 370.9,259.5 360.6,250" stroke="#35c5d6"/>
<polygon points="362.3,255.2 372.6,267 360.6,250 350.3,239" stroke="#4dcdc1"/>
<polygon points="352,242.1 362.3,255.2 350.3,239 340,226.6" stroke="#65d4a5"/>
<polygon points="341.7,228.2 352,242.1 340,226.6 329.7,213.8" stroke="#92d67f"/>
<polygon points="331.4,214.2 341.7,228.2 329.7,213.8 319.4,200.5" stroke="#c5d05b"/>
<polygon points="321.1,199.7 331.4,214.2 319.4,200.5 309.1,186.3" stroke="#efc85a"/>
<polygon points="310.8,183.6 321.1,199.7 309.1,186.3 298.8,170.7" stroke="#fdd75b"/>
<polygon points="300.5,169.1 310.8,183.6 298.8,170.7 288.5,157.8" stroke="#f7ee4f"/>
<polygon points="290.2,162.2 300.5,169.1 288.5,157.8 278.2,161.7" stroke="#fafb45"/>
<polygon points="279.9,180.8 290.2,162.2 278.2,161.7 267.9,181" stroke="#f8e653"/>
<polygon points="269.5,202.9 279.9,180.8 267.9,181 257.6,203" stroke="#fecc62"/>
<polygon points="259.2,223.1 269.5,202.9 257.6,203 247.3,222" stroke="#e0cb53"/>
<polygon points="248.9,243 259.2,223.1 247.3,222 237,242.6" stroke="#b2d367"/>
<polygon points="238.6,265.4 248.9,243 237,242.6 226.7,264.7" stroke="#77d696"/>
<polygon points="228.3,287.5 238.6,265.4 226.7,264.7 216.4,286.4" stroke="#54cfba"/>
<polygon points="218,309 228.3,287.5 216.4,286.4 206.1,307.7" stroke="#35c5d6"/>
<polygon points="207.7,331.1 218,309 206.1,307.7 195.8,329.7" stroke="#4eb5e9"/>
<polygon points="197.4,353.8 207.7,331.1 195.8,329.7 185.5,352.2" stroke="#57a0f8"/>
<polygon points="539.1,169.5 549.4,148.9 537.4,137.3 527.1,157.5" stroke="#bed25f"/>
<polygon points="528.8,189.8 539.1,169.5 527.1,157.5 516.8,177.2" stroke="#88d788"/>
<polygon points="518.5,210.2 528.8,189.8 516.8,177.2 506.5,196.6" stroke="#5ed3ad"/>
<polygon points="508.2,229.6 518.5,210.2 506.5,196.6 496.2,215.6" stroke="#3fcbc8"/>
<polygon points="497.8,248.6 508.2,229.6 496.2,215.6 485.9,233.2" stroke="#41c1de"/>
<polygon points="487.5,267.9 497.8,248.6 485.9,233.2 475.6,250.6" stroke="#50b1eb"/>
<polygon points="477.2,285.5 487.5,267.9 475.6,250.6 465.3,267" stroke="#57a1f7"/>
<polygon points="466.9,300.8 477.2,285.5 465.3,267 455,281" stroke="#5f92fe"/>
<polygon points="456.6,313.1 466.9,300.8 455,281 444.7,292" stroke="#6986fe"/>
<polygon points="446.3,321.5 456.6,313.1 444.7,292 434.4,299.3" stroke="#6b7ffc"/>
<polygon points="436,324.8 446.3,321.5 434.4,299.3 424.1,302.6" stroke="#6b7efc"/>
<polygon points="425.7,323 436,324.8 424.1,302.6 413.8,301.7" stroke="#6a84fd"/>
<polygon points="415.4,317.1 425.7,323 413.8,301.7 403.5,297" stroke="#628fff"/>
<polygon points="405.1,308 415.4,317.1 403.5,297 393.2,289.2" stroke="#589ef9"/>
<polygon points="394.8,296.4 405.1,308 393.2,289.2 382.9,278.8" stroke="#51aeed"/>
<polygon points="384.5,282.9 394.8,296.4 382.9,278.8 372.6,267" stroke="#47bee3"/>
<polygon points="374.2,269.3 384.5,282.9 372.6,267 362.3,255.2" stroke="#37c9cd"/>
<polygon points="363.9,255.8 374.2,269.3 362.3,255.2 352,242.1" stroke="#59d1b4"/>
<polygon points="353.6,241 363.9,255.8 352,242.1 341.7,228.2" stroke="#7dd791"/>
<polygon points="343.3,226.3 353.6,241 341.7,228.2 331.4,214.2" stroke="#b2d367"/>
<polygon points="333,211.4 343.3,226.3 331.4,214.2 321.1,199.7" stroke="#e2ca53"/>
<polygon points="322.7,195.3 333,211.4 321.1,199.7 310.8,183.6" stroke="#fecf60"/>
<polygon points="312.4,179.2 322.7,195.3 310.8,183.6 300.5,169.1" stroke="#f7e852"/>
<polygon points="302.1,167.1 312.4,179.2 300.5,169.1 290.2,162.2" stroke="#fafb44"/>
<polygon points="291.8,182 302.1,167.1 290.2,162.2 279.9,180.8" stroke="#f7ec51"/>
<polygon points="281.5,203.8 291.8,182 279.9,180.8 269.5,202.9" stroke="#fed25e"/>
<polygon points="271.2,225.1 281.5,203.8 269.5,202.9 259.2,223.1" stroke="#e8c956"/>
<polygon points="260.9,244.7 271.2,225.1 259.2,223.1 248.9,243" stroke="#bed25f"/>
<polygon points="250.6,267.1 260.9,244.7 248.9,243 238.6,265.4" stroke="#82d78d"/>
<polygon points="240.3,289.5 250.6,267.1 238.6,265.4 228.3,287.5" stroke="#59d1b5"/>
<polygon points="230,311.2 240.3,289.5 228.3,287.5 218,309" stroke="#34c7d1"/>
<polygon points="219.7,333.3 230,311.2 218,309 207.7,331.1" stroke="#4bb8e7"/>
<polygon points="209.4,356.1 219.7,333.3 207.7,331.1 197.4,353.8" stroke="#57a3f5"/>
<polygon points="551,179.8 561.3,158.8 549.4,148.9 539.1,169.5" stroke="#b0d469"/>
<polygon points="540.7,200.6 551,179.8 539.1,169.5 528.8,189.8" stroke="#79d694"/>
<polygon points="530.4,221.6 540.7,200.6 528.8,189.8 518.5,210.2" stroke="#57d0b8"/>
<polygon points="520.1,241.5 530.4,221.6 518.5,210.2 508.2,229.6" stroke="#34c7d1"/>
<polygon points="509.8,262.1 520.1,241.5 508.2,229.6 497.8,248.6" stroke="#4abae6"/>
<polygon points="499.5,282.4 509.8,262.1 497.8,248.6 487.5,267.9" stroke="#55a8f1"/>
<polygon points="489.2,301.2 499.5,282.4 487.5,267.9 477.2,285.5" stroke="#5c95fd"/>
<polygon points="478.9,318 489.2,301.2 477.2,285.5 466.9,300.8" stroke="#6a83fd"/>
<polygon points="468.6,332.6 478.9,318 466.9,300.8 456.6,313.1" stroke="#6c75f6"/>
<polygon points="458.3,343.1 468.6,332.6 456.6,313.1 446.3,321.5" stroke="#6c6bef"/>
<polygon points="448,346.8 458.3,343.1 446.3,321.5 436,324.8" stroke="#6c6aed"/>
<polygon points="437.7,343.1 448,346.8 436,324.8 425.7,323" stroke="#6c72f4"/>
<polygon points="427.4,334.7 437.7,343.1 425.7,323 415.4,317.1" stroke="#6b7ffc"/>
<polygon points="417.1,323.9 427.4,334.7 415.4,317.1 405.1,308" stroke="#6091fe"/>
<polygon points="406.8,311.1 417.1,323.9 405.1,308 394.8,296.4" stroke="#57a4f5"/>
<polygon points="396.5,296.7 406.8,311.1 394.8,296.4 384.5,282.9" stroke="#4db6e9"/>
<polygon points="386.1,281.5 396.5,296.7 384.5,282.9 374.2,269.3" stroke="#36c5d7"/>
<polygon points="375.8,267.3 386.1,281.5 374.2,269.3 363.9,255.8" stroke="#51cebe"/>
<polygon points="365.5,252 375.8,267.3 363.9,255.8 353.6,241" stroke="#6ed69d"/>
<polygon points="355.2,236.7 365.5,252 353.6,241 343.3,226.3" stroke="#a3d573"/>
<polygon points="344.9,221.3 355.2,236.7 343.3,226.3 333,211.4" stroke="#d7cd53"/>
<polygon points="334.6,205.3 344.9,221.3 333,211.4 322.7,195.3" stroke="#fdca64"/>
<polygon points="324.3,188.4 334.6,205.3 322.7,195.3 312.4,179.2" stroke="#f8e355"/>
<polygon points="314,174.6 324.3,188.4 312.4,179.2 302.1,167.1" stroke="#f9f947"/>
<polygon points="303.7,184.7 314,174.6 302.1,167.1 291.8,182" stroke="#f7f04f"/>
<polygon points="293.4,205.9 303.7,184.7 291.8,182 281.5,203.8" stroke="#fdd75b"/>
<polygon points="283.1,228.1 293.4,205.9 281.5,203.8 271.2,225.1" stroke="#eec859"/>
<polygon points="272.8,247.5 283.1,228.1 271.2,225.1 260.9,244.7" stroke="#c5d05b"/>
<polygon points="262.5,269.9 272.8,247.5 260.9,244.7 250.6,267.1" stroke="#8ad786"/>
<polygon points="252.2,292.5 262.5,269.9 250.6,267.1 240.3,289.5" stroke="#5cd2b0"/>
<polygon points="241.9,314.4 252.2,292.5 240.3,289.5 230,311.2" stroke="#36c9ce"/>
<polygon points="231.6,336.5 241.9,314.4 230,311.2 219.7,333.3" stroke="#4abae6"/>
<polygon points="221.3,359.3 231.6,336.5 219.7,333.3 209.4,356.1" stroke="#56a6f3"/>
<polygon points="562.9,188.2 573.2,167 561.3,158.8 551,179.8" stroke="#a7d570"/>
<polygon points="552.6,209.4 562.9,188.2 551,179.8 540.7,200.6" stroke="#70d69b"/>
<polygon points="542.3,230.7 552.6,209.4 540.7,200.6 530.4,221.6" stroke="#51cebd"/>
<polygon points="532,251.1 542.3,230.7 530.4,221.6 520.1,241.5" stroke="#36c5d7"/>
<polygon points="521.7,272.7 532,251.1 520.1,241.5 509.8,262.1" stroke="#4eb5e9"/>
<polygon points="511.4,293.7 521.7,272.7 509.8,262.1 499.5,282.4" stroke="#57a2f6"/>
<polygon points="501.1,313.3 511.4,293.7 499.5,282.4 489.2,301.2" stroke="#648cff"/>
<polygon points="490.8,331.8 501.1,313.3 489.2,301.2 478.9,318" stroke="#6c79f9"/>
<polygon points="480.5,349.3 490.8,331.8 478.9,318 468.6,332.6" stroke="#6c67ea"/>
<polygon points="470.2,364.9 480.5,349.3 468.6,332.6 458.3,343.1" stroke="#685ad1"/>
<polygon points="459.9,369.3 470.2,364.9 458.3,343.1 448,346.8" stroke="#6858cd"/>
<polygon points="449.6,360.7 459.9,369.3 448,346.8 437.7,343.1" stroke="#6b63e5"/>
<polygon points="439.3,349.1 449.6,360.7 437.7,343.1 427.4,334.7" stroke="#6c75f6"/>
<polygon points="429,336.3 439.3,349.1 427.4,334.7 417.1,323.9" stroke="#6888fe"/>
<polygon points="418.7,322.6 429,336.3 417.1,323.9 406.8,311.1" stroke="#589dfa"/>
<polygon points="408.4,307.5 418.7,322.6 406.8,311.1 396.5,296.7" stroke="#50b1eb"/>
<polygon points="398.1,291.4 408.4,307.5 396.5,296.7 386.1,281.5" stroke="#3ec2dc"/>
<polygon points="387.8,276.4 398.1,291.4 386.1,281.5 375.8,267.3" stroke="#48ccc3"/>
<polygon points="377.5,260.9 387.8,276.4 375.8,267.3 365.5,252" stroke="#66d5a4"/>
<polygon points="367.2,245.2 377.5,260.9 365.5,252 355.2,236.7" stroke="#9ad67a"/>
<polygon points="356.9,229.6 367.2,245.2 355.2,236.7 344.9,221.3" stroke="#d0ce55"/>
<polygon points="346.6,213.6 356.9,229.6 344.9,221.3 334.6,205.3" stroke="#f9c864"/>
<polygon points="336.3,196.2 346.6,213.6 334.6,205.3 324.3,188.4" stroke="#fae056"/>
<polygon points="326,181.9 336.3,196.2 324.3,188.4 314,174.6" stroke="#f9f749"/>
<polygon points="315.7,188.6 326,181.9 314,174.6 303.7,184.7" stroke="#f7f24d"/>
<polygon points="305.4,209.4 315.7,188.6 303.7,184.7 293.4,205.9" stroke="#fdd959"/>
<polygon points="295.1,232 305.4,209.4 293.4,205.9 283.1,228.1" stroke="#f1c85c"/>
<polygon points="284.8,251.5 295.1,232 283.1,228.1 272.8,247.5" stroke="#cacf58"/>
<polygon points="274.4,273.8 284.8,251.5 272.8,247.5 262.5,269.9" stroke="#8fd782"/>
<polygon points="264.1,296.5 274.4,273.8 262.5,269.9 252.2,292.5" stroke="#5ed3ae"/>
<polygon points="253.8,318.5 264.1,296.5 252.2,292.5 241.9,314.4" stroke="#39c9cc"/>
<polygon points="243.5,340.6 253.8,318.5 241.9,314.4 231.6,336.5" stroke="#48bce4"/>
<polygon points="233.2,363.5 243.5,340.6 231.6,336.5 221.3,359.3" stroke="#55a8f2"/>
<polygon points="574.9,194.7 585.2,173.4 573.2,167 562.9,188.2" stroke="#a4d573"/>
<polygon points="564.6,216.1 574.9,194.7 562.9,188.2 552.6,209.4" stroke="#6dd59e"/>
<polygon points="554.3,237.5 564.6,216.1 552.6,209.4 542.3,230.7" stroke="#4fcebf"/>
<polygon points="544,258.1 554.3,237.5 542.3,230.7 532,251.1" stroke="#38c4d9"/>
<polygon points="533.7,280 544,258.1 532,251.1 521.7,272.7" stroke="#4fb3ea"/>
<polygon points="523.4,301.2 533.7,280 521.7,272.7 511.4,293.7" stroke="#579ff8"/>
<polygon points="513.1,321.2 523.4,301.2 511.4,293.7 501.1,313.3" stroke="#6789fe"/>
<polygon points="502.7,340.5 513.1,321.2 501.1,313.3 490.8,331.8" stroke="#6c75f7"/>
<polygon points="492.4,359.8 502.7,340.5 490.8,331.8 480.5,349.3" stroke="#6b61e2"/>
<polygon points="482.1,377.8 492.4,359.8 480.5,349.3 470.2,364.9" stroke="#6553bf"/>
<polygon points="471.8,382.7 482.1,377.8 470.2,364.9 459.9,369.3" stroke="#6452ba"/>
<polygon points="461.5,372.2 471.8,382.7 459.9,369.3 449.6,360.7" stroke="#6a5dda"/>
<polygon points="451.2,358.1 461.5,372.2 449.6,360.7 439.3,349.1" stroke="#6c71f3"/>
<polygon points="440.9,344.3 451.2,358.1 439.3,349.1 429,336.3" stroke="#6985fe"/>
<polygon points="430.6,330.2 440.9,344.3 429,336.3 418.7,322.6" stroke="#589bfb"/>
<polygon points="420.3,314.8 430.6,330.2 418.7,322.6 408.4,307.5" stroke="#51afec"/>
<polygon points="410,298.4 420.3,314.8 408.4,307.5 398.1,291.4" stroke="#41c1de"/>
<polygon points="399.7,283.2 410,298.4 398.1,291.4 387.8,276.4" stroke="#45ccc5"/>
<polygon points="389.4,267.6 399.7,283.2 387.8,276.4 377.5,260.9" stroke="#64d4a6"/>
<polygon points="379.1,251.7 389.4,267.6 377.5,260.9 367.2,245.2" stroke="#97d67c"/>
<polygon points="368.8,236 379.1,251.7 367.2,245.2 356.9,229.6" stroke="#cecf56"/>
<polygon points="358.5,220 368.8,236 356.9,229.6 346.6,213.6" stroke="#f8c862"/>
<polygon points="348.2,202.5 358.5,220 346.6,213.6 336.3,196.2" stroke="#fadf57"/>
<polygon points="337.9,188.1 348.2,202.5 336.3,196.2 326,181.9" stroke="#f8f64a"/>
<polygon points="327.6,193.5 337.9,188.1 326,181.9 315.7,188.6" stroke="#f7f24d"/>
<polygon points="317.3,214.2 327.6,193.5 315.7,188.6 305.4,209.4" stroke="#fcda59"/>
<polygon points="307,237 317.3,214.2 305.4,209.4 295.1,232" stroke="#f2c85d"/>
<polygon points="296.7,256.5 307,237 295.1,232 284.8,251.5" stroke="#cbcf58"/>
<polygon points="286.4,278.8 296.7,256.5 284.8,251.5 274.4,273.8" stroke="#91d781"/>
<polygon points="276.1,301.5 286.4,278.8 274.4,273.8 264.1,296.5" stroke="#5fd3ad"/>
<polygon points="265.8,323.5 276.1,301.5 264.1,296.5 253.8,318.5" stroke="#3acacb"/>
<polygon points="255.5,345.7 265.8,323.5 253.8,318.5 243.5,340.6" stroke="#48bce4"/>
<polygon points="245.2,368.5 255.5,345.7 243.5,340.6 233.2,363.5" stroke="#55a8f1"/>
<polygon points="586.8,199.3 597.1,178.1 585.2,173.4 574.9,194.7" stroke="#a7d570"/>
<polygon points="576.5,220.5 586.8,199.3 574.9,194.7 564.6,216.1" stroke="#70d69c"/>
<polygon points="566.2,241.8 576.5,220.5 564.6,216.1 554.3,237.5" stroke="#51cebd"/>
<polygon points="555.9,262.2 566.2,241.8 554.3,237.5 544,258.1" stroke="#36c5d7"/>
<polygon points="545.6,283.8 555.9,262.2 544,258.1 533.7,280" stroke="#4eb5e9"/>
<polygon points="535.3,304.8 545.6,283.8 533.7,280 523.4,301.2" stroke="#57a1f7"/>
<polygon points="525,324.5 535.3,304.8 523.4,301.2 513.1,321.2" stroke="#648cff"/>
<polygon points="514.7,343 525,324.5 513.1,321.2 502.7,340.5" stroke="#6c79f9"/>
<polygon points="504.4,360.6 514.7,343 502.7,340.5 492.4,359.8" stroke="#6c67ea"/>
<polygon points="494.1,376.2 504.4,360.6 492.4,359.8 482.1,377.8" stroke="#685ad1"/>
<polygon points="483.8,380.6 494.1,376.2 482.1,377.8 471.8,382.7" stroke="#6858cd"/>
<polygon points="473.5,372 483.8,380.6 471.8,382.7 461.5,372.2" stroke="#6b63e5"/>
<polygon points="463.2,360.3 473.5,372 461.5,372.2 451.2,358.1" stroke="#6c75f6"/>
<polygon points="452.9,347.5 463.2,360.3 451.2,358.1 440.9,344.3" stroke="#6888fe"/>
<polygon points="442.6,333.7 452.9,347.5 440.9,344.3 430.6,330.2" stroke="#589dfa"/>
<polygon points="432.3,318.6 442.6,333.7 430.6,330.2 420.3,314.8" stroke="#50b1eb"/>
<polygon points="422,302.5 432.3,318.6 420.3,314.8 410,298.4" stroke="#3ec2dc"/>
<polygon points="411.7,287.5 422,302.5 410,298.4 399.7,283.2" stroke="#48ccc3"/>
<polygon points="401.4,272 411.7,287.5 399.7,283.2 389.4,267.6" stroke="#66d5a4"/>
<polygon points="391,256.3 401.4,272 389.4,267.6 379.1,251.7" stroke="#9ad67a"/>
<polygon points="380.7,240.7 391,256.3 379.1,251.7 368.8,236" stroke="#d0ce55"/>
<polygon points="370.4,224.7 380.7,240.7 368.8,236 358.5,220" stroke="#f9c864"/>
<polygon points="360.1,207.3 370.4,224.7 358.5,220 348.2,202.5" stroke="#fae056"/>
<polygon points="349.8,193 360.1,207.3 348.2,202.5 337.9,188.1" stroke="#f9f749"/>
<polygon points="339.5,199.6 349.8,193 337.9,188.1 327.6,193.5" stroke="#f7f24d"/>
<polygon points="329.2,220.4 339.5,199.6 327.6,193.5 317.3,214.2" stroke="#fdd959"/>
<polygon points="318.9,243.1 329.2,220.4 317.3,214.2 307,237" stroke="#f1c85c"/>
<polygon points="308.6,262.6 318.9,243.1 307,237 296.7,256.5" stroke="#cacf58"/>
<polygon points="298.3,284.9 308.6,262.6 296.7,256.5 286.4,278.8" stroke="#8fd782"/>
<polygon points="288,307.5 298.3,284.9 286.4,278.8 276.1,301.5" stroke="#5ed3ad"/>
<polygon points="277.7,329.5 288,307.5 276.1,301.5 265.8,323.5" stroke="#39c9cc"/>
<polygon points="267.4,351.7 277.7,329.5 265.8,323.5 255.5,345.7" stroke="#48bce4"/>
<polygon points="257.1,374.5 267.4,351.7 255.5,345.7 245.2,368.5" stroke="#55a8f2"/>
<polygon points="598.7,202 609,181 597.1,178.1 586.8,199.3" stroke="#afd469"/>
<polygon points="588.4,222.8 598.7,202 586.8,199.3 576.5,220.5" stroke="#79d694"/>
<polygon points="578.1,243.8 588.4,222.8 576.5,220.5 566.2,241.8" stroke="#57d0b8"/>
<polygon points="567.8,263.7 578.1,243.8 566.2,241.8 555.9,262.2" stroke="#34c7d1"/>
<polygon points="557.5,284.4 567.8,263.7 555.9,262.2 545.6,283.8" stroke="#4abae6"/>
<polygon points="547.2,304.7 557.5,284.4 545.6,283.8 535.3,304.8" stroke="#55a8f2"/>
<polygon points="536.9,323.5 547.2,304.7 535.3,304.8 525,324.5" stroke="#5c95fd"/>
<polygon points="526.6,340.3 536.9,323.5 525,324.5 514.7,343" stroke="#6a83fd"/>
<polygon points="516.3,355 526.6,340.3 514.7,343 504.4,360.6" stroke="#6c74f6"/>
<polygon points="506,365.5 516.3,355 504.4,360.6 494.1,376.2" stroke="#6c6bee"/>
<polygon points="495.7,369.2 506,365.5 494.1,376.2 483.8,380.6" stroke="#6c6aed"/>
<polygon points="485.4,365.5 495.7,369.2 483.8,380.6 473.5,372" stroke="#6c72f4"/>
<polygon points="475.1,357.1 485.4,365.5 473.5,372 463.2,360.3" stroke="#6b7ffc"/>
<polygon points="464.8,346.2 475.1,357.1 463.2,360.3 452.9,347.5" stroke="#6091fe"/>
<polygon points="454.5,333.4 464.8,346.2 452.9,347.5 442.6,333.7" stroke="#57a4f5"/>
<polygon points="444.2,319 454.5,333.4 442.6,333.7 432.3,318.6" stroke="#4db6e9"/>
<polygon points="433.9,303.7 444.2,319 432.3,318.6 422,302.5" stroke="#36c5d7"/>
<polygon points="423.6,289.5 433.9,303.7 422,302.5 411.7,287.5" stroke="#50cebe"/>
<polygon points="413.3,274.2 423.6,289.5 411.7,287.5 401.4,272" stroke="#6ed69d"/>
<polygon points="403,258.9 413.3,274.2 401.4,272 391,256.3" stroke="#a3d573"/>
<polygon points="392.7,243.5 403,258.9 391,256.3 380.7,240.7" stroke="#d7cd53"/>
<polygon points="382.4,227.5 392.7,243.5 380.7,240.7 370.4,224.7" stroke="#fdca64"/>
<polygon points="372.1,210.6 382.4,227.5 370.4,224.7 360.1,207.3" stroke="#f8e355"/>
<polygon points="361.8,196.8 372.1,210.6 360.1,207.3 349.8,193" stroke="#f9f947"/>
<polygon points="351.5,206.8 361.8,196.8 349.8,193 339.5,199.6" stroke="#f7f04f"/>
<polygon points="341.2,228 351.5,206.8 339.5,199.6 329.2,220.4" stroke="#fdd75b"/>
<polygon points="330.9,250.2 341.2,228 329.2,220.4 318.9,243.1" stroke="#eec859"/>
<polygon points="320.6,269.7 330.9,250.2 318.9,243.1 308.6,262.6" stroke="#c5d05b"/>
<polygon points="310.3,292 320.6,269.7 308.6,262.6 298.3,284.9" stroke="#8ad786"/>
<polygon points="300,314.6 310.3,292 298.3,284.9 288,307.5" stroke="#5cd2b0"/>
<polygon points="289.7,336.5 300,314.6 288,307.5 277.7,329.5" stroke="#36c9ce"/>
<polygon points="279.3,358.6 289.7,336.5 277.7,329.5 267.4,351.7" stroke="#4abbe6"/>
<polygon points="269,381.5 279.3,358.6 267.4,351.7 257.1,374.5" stroke="#56a6f3"/>
<polygon points="610.7,202.8 621,182.2 609,181 598.7,202" stroke="#bdd260"/>
<polygon points="600.4,223.1 610.7,202.8 598.7,202 588.4,222.8" stroke="#88d788"/>
<polygon points="590.1,243.5 600.4,223.1 588.4,222.8 578.1,243.8" stroke="#5ed3ae"/>
<polygon points="579.8,263 590.1,243.5 578.1,243.8 567.8,263.7" stroke="#3fcbc8"/>
<polygon points="569.5,282 579.8,263 567.8,263.7 557.5,284.4" stroke="#41c1df"/>
<polygon points="559.2,301.3 569.5,282 557.5,284.4 547.2,304.7" stroke="#50b1eb"/>
<polygon points="548.9,318.9 559.2,301.3 547.2,304.7 536.9,323.5" stroke="#57a1f7"/>
<polygon points="538.6,334.2 548.9,318.9 536.9,323.5 526.6,340.3" stroke="#5f92fe"/>
<polygon points="528.3,346.5 538.6,334.2 526.6,340.3 516.3,355" stroke="#6985fe"/>
<polygon points="518,355 528.3,346.5 516.3,355 506,365.5" stroke="#6b7efc"/>
<polygon points="507.6,358.3 518,355 506,365.5 495.7,369.2" stroke="#6b7efb"/>
<polygon points="497.3,356.5 507.6,358.3 495.7,369.2 485.4,365.5" stroke="#6a83fd"/>
<polygon points="487,350.5 497.3,356.5 485.4,365.5 475.1,357.1" stroke="#628fff"/>
<polygon points="476.7,341.4 487,350.5 475.1,357.1 464.8,346.2" stroke="#589ef9"/>
<polygon points="466.4,329.8 476.7,341.4 464.8,346.2 454.5,333.4" stroke="#51aeed"/>
<polygon points="456.1,316.3 466.4,329.8 454.5,333.4 444.2,319" stroke="#47bde3"/>
<polygon points="445.8,302.7 456.1,316.3 444.2,319 433.9,303.7" stroke="#37c9ce"/>
<polygon points="435.5,289.1 445.8,302.7 433.9,303.7 423.6,289.5" stroke="#59d1b4"/>
<polygon points="425.2,274.3 435.5,289.1 423.6,289.5 413.3,274.2" stroke="#7dd791"/>
<polygon points="414.9,259.6 425.2,274.3 413.3,274.2 403,258.9" stroke="#b2d468"/>
<polygon points="404.6,244.7 414.9,259.6 403,258.9 392.7,243.5" stroke="#e2ca53"/>
<polygon points="394.3,228.6 404.6,244.7 392.7,243.5 382.4,227.5" stroke="#fecf60"/>
<polygon points="384,212.5 394.3,228.6 382.4,227.5 372.1,210.6" stroke="#f7e853"/>
<polygon points="373.7,200.4 384,212.5 372.1,210.6 361.8,196.8" stroke="#fafb44"/>
<polygon points="363.4,215.2 373.7,200.4 361.8,196.8 351.5,206.8" stroke="#f7ec51"/>
<polygon points="353.1,236.9 363.4,215.2 351.5,206.8 341.2,228" stroke="#fed25e"/>
<polygon points="342.8,258.3 353.1,236.9 341.2,228 330.9,250.2" stroke="#e8c956"/>
<polygon points="332.5,277.9 342.8,258.3 330.9,250.2 320.6,269.7" stroke="#bed25f"/>
<polygon points="322.2,300.3 332.5,277.9 320.6,269.7 310.3,292" stroke="#82d78d"/>
<polygon points="311.9,322.7 322.2,300.3 310.3,292 300,314.6" stroke="#59d1b5"/>
<polygon points="301.6,344.4 311.9,322.7 300,314.6 289.7,336.5" stroke="#34c7d1"/>
<polygon points="291.3,366.5 301.6,344.4 289.7,336.5 279.3,358.6" stroke="#4bb8e7"/>
<polygon points="281,389.3 291.3,366.5 279.3,358.6 269,381.5" stroke="#57a3f5"/>
<polygon points="622.6,201.9 632.9,181.7 621,182.2 610.7,202.8" stroke="#cfce55"/>
<polygon points="612.3,221.6 622.6,201.9 610.7,202.8 600.4,223.1" stroke="#9ed677"/>
<polygon points="602,241 612.3,221.6 600.4,223.1 590.1,243.5" stroke="#6dd59e"/>
<polygon points="591.7,260.1 602,241 590.1,243.5 579.8,263" stroke="#53cfbc"/>
<polygon points="581.4,277.7 591.7,260.1 579.8,263 569.5,282" stroke="#34c7d2"/>
<polygon points="571.1,295.1 581.4,277.7 569.5,282 559.2,301.3" stroke="#48bce4"/>
<polygon points="560.8,311.5 571.1,295.1 559.2,301.3 548.9,318.9" stroke="#51afec"/>
<polygon points="550.5,325.5 560.8,311.5 548.9,318.9 538.6,334.2" stroke="#57a3f5"/>
<polygon points="540.2,336.6 550.5,325.5 538.6,334.2 528.3,346.5" stroke="#5999fb"/>
<polygon points="529.9,343.9 540.2,336.6 528.3,346.5 518,355" stroke="#5d94fe"/>
<polygon points="519.6,347.2 529.9,343.9 518,355 507.6,358.3" stroke="#5e93fe"/>
<polygon points="509.3,346.3 519.6,347.2 507.6,358.3 497.3,356.5" stroke="#5a98fc"/>
<polygon points="499,341.5 509.3,346.3 497.3,356.5 487,350.5" stroke="#57a1f7"/>
<polygon points="488.7,333.7 499,341.5 487,350.5 476.7,341.4" stroke="#52acee"/>
<polygon points="478.4,323.3 488.7,333.7 476.7,341.4 466.4,329.8" stroke="#4abae6"/>
<polygon points="468.1,311.5 478.4,323.3 466.4,329.8 456.1,316.3" stroke="#35c5d6"/>
<polygon points="457.8,299.7 468.1,311.5 456.1,316.3 445.8,302.7" stroke="#4ccdc1"/>
<polygon points="447.5,286.5 457.8,299.7 445.8,302.7 435.5,289.1" stroke="#65d4a5"/>
<polygon points="437.2,272.6 447.5,286.5 435.5,289.1 425.2,274.3" stroke="#92d680"/>
<polygon points="426.9,258.6 437.2,272.6 425.2,274.3 414.9,259.6" stroke="#c5d05b"/>
<polygon points="416.6,244.1 426.9,258.6 414.9,259.6 404.6,244.7" stroke="#efc85a"/>
<polygon points="406.3,228 416.6,244.1 404.6,244.7 394.3,228.6" stroke="#fdd75b"/>
<polygon points="395.9,213.4 406.3,228 394.3,228.6 384,212.5" stroke="#f7ee50"/>
<polygon points="385.6,206.4 395.9,213.4 384,212.5 373.7,200.4" stroke="#fafb45"/>
<polygon points="375.3,225 385.6,206.4 373.7,200.4 363.4,215.2" stroke="#f8e653"/>
<polygon points="365,247.1 375.3,225 363.4,215.2 353.1,236.9" stroke="#fecc62"/>
<polygon points="354.7,267.3 365,247.1 353.1,236.9 342.8,258.3" stroke="#e1cb53"/>
<polygon points="344.4,287.3 354.7,267.3 342.8,258.3 332.5,277.9" stroke="#b2d367"/>
<polygon points="334.1,309.6 344.4,287.3 332.5,277.9 322.2,300.3" stroke="#77d696"/>
<polygon points="323.8,331.7 334.1,309.6 322.2,300.3 311.9,322.7" stroke="#54cfba"/>
<polygon points="313.5,353.2 323.8,331.7 311.9,322.7 301.6,344.4" stroke="#35c5d6"/>
<polygon points="303.2,375.3 313.5,353.2 301.6,344.4 291.3,366.5" stroke="#4eb5e9"/>
<polygon points="292.9,398 303.2,375.3 291.3,366.5 281,389.3" stroke="#57a0f8"/>
<polygon points="634.6,199.5 644.9,179.2 632.9,181.7 622.6,201.9" stroke="#e3ca54"/>
<polygon points="624.2,218.5 634.6,199.5 622.6,201.9 612.3,221.6" stroke="#b8d363"/>
<polygon points="613.9,236.9 624.2,218.5 612.3,221.6 602,241" stroke="#88d788"/>
<polygon points="603.6,255.1 613.9,236.9 602,241 591.7,260.1" stroke="#61d4a9"/>
<polygon points="593.3,272 603.6,255.1 591.7,260.1 581.4,277.7" stroke="#4ccdc1"/>
<polygon points="583,287.4 593.3,272 581.4,277.7 571.1,295.1" stroke="#34c6d4"/>
<polygon points="572.7,302 583,287.4 571.1,295.1 560.8,311.5" stroke="#46bee2"/>
<polygon points="562.4,314.9 572.7,302 560.8,311.5 550.5,325.5" stroke="#4eb4e9"/>
<polygon points="552.1,324.9 562.4,314.9 550.5,325.5 540.2,336.6" stroke="#52adee"/>
<polygon points="541.8,331.6 552.1,324.9 540.2,336.6 529.9,343.9" stroke="#54a9f1"/>
<polygon points="531.5,334.8 541.8,331.6 529.9,343.9 519.6,347.2" stroke="#55a8f1"/>
<polygon points="521.2,334.4 531.5,334.8 519.6,347.2 509.3,346.3" stroke="#52acef"/>
<polygon points="510.9,330.7 521.2,334.4 509.3,346.3 499,341.5" stroke="#4fb2ea"/>
<polygon points="500.6,323.9 510.9,330.7 499,341.5 488.7,333.7" stroke="#48bce5"/>
<polygon points="490.3,315.1 500.6,323.9 488.7,333.7 478.4,323.3" stroke="#37c5d7"/>
<polygon points="480,305.5 490.3,315.1 478.4,323.3 468.1,311.5" stroke="#44ccc5"/>
<polygon points="469.7,294.5 480,305.5 468.1,311.5 457.8,299.7" stroke="#5dd2af"/>
<polygon points="459.4,282.1 469.7,294.5 457.8,299.7 447.5,286.5" stroke="#7ed790"/>
<polygon points="449.1,269.3 459.4,282.1 447.5,286.5 437.2,272.6" stroke="#aed46b"/>
<polygon points="438.8,256 449.1,269.3 437.2,272.6 426.9,258.6" stroke="#dacc52"/>
<polygon points="428.5,241.8 438.8,256 426.9,258.6 416.6,244.1" stroke="#fcc964"/>
<polygon points="418.2,226.2 428.5,241.8 416.6,244.1 406.3,228" stroke="#fae156"/>
<polygon points="407.9,213.3 418.2,226.2 406.3,228 395.9,213.4" stroke="#f8f54a"/>
<polygon points="397.6,216.9 407.9,213.3 395.9,213.4 385.6,206.4" stroke="#f8f44b"/>
<polygon points="387.3,236.3 397.6,216.9 385.6,206.4 375.3,225" stroke="#fbde57"/>
<polygon points="377,258.3 387.3,236.3 375.3,225 365,247.1" stroke="#f9c863"/>
<polygon points="366.7,277.3 377,258.3 365,247.1 354.7,267.3" stroke="#d6cd53"/>
<polygon points="356.4,297.9 366.7,277.3 354.7,267.3 344.4,287.3" stroke="#a3d573"/>
<polygon points="346.1,319.9 356.4,297.9 344.4,287.3 334.1,309.6" stroke="#6bd5a0"/>
<polygon points="335.8,341.7 346.1,319.9 334.1,309.6 323.8,331.7" stroke="#4ccdc1"/>
<polygon points="325.5,363 335.8,341.7 323.8,331.7 313.5,353.2" stroke="#3cc2db"/>
<polygon points="315.2,385 325.5,363 313.5,353.2 303.2,375.3" stroke="#50b1eb"/>
<polygon points="304.9,407.5 315.2,385 303.2,375.3 292.9,398" stroke="#589bfb"/>
<polygon points="646.5,195.4 656.8,175.1 644.9,179.2 634.6,199.5" stroke="#f6c861"/>
<polygon points="636.2,213.9 646.5,195.4 634.6,199.5 624.2,218.5" stroke="#d4cd54"/>
<polygon points="625.9,231.5 636.2,213.9 624.2,218.5 613.9,236.9" stroke="#aad56e"/>
<polygon points="615.6,248.4 625.9,231.5 613.9,236.9 603.6,255.1" stroke="#7fd78f"/>
<polygon points="605.3,264.6 615.6,248.4 603.6,255.1 593.3,272" stroke="#5fd3ac"/>
<polygon points="595,279.2 605.3,264.6 593.3,272 583,287.4" stroke="#4ecdbf"/>
<polygon points="584.7,291.9 595,279.2 583,287.4 572.7,302" stroke="#36c9ce"/>
<polygon points="574.4,302.9 584.7,291.9 572.7,302 562.4,314.9" stroke="#39c3da"/>
<polygon points="564.1,311.9 574.4,302.9 562.4,314.9 552.1,324.9" stroke="#45bfe1"/>
<polygon points="553.8,318.2 564.1,311.9 552.1,324.9 541.8,331.6" stroke="#48bce4"/>
<polygon points="543.5,321.3 553.8,318.2 541.8,331.6 531.5,334.8" stroke="#49bbe5"/>
<polygon points="533.2,321.3 543.5,321.3 531.5,334.8 521.2,334.4" stroke="#46bee2"/>
<polygon points="522.9,318.4 533.2,321.3 521.2,334.4 510.9,330.7" stroke="#3cc2dc"/>
<polygon points="512.5,313.4 522.9,318.4 510.9,330.7 500.6,323.9" stroke="#34c7d1"/>
<polygon points="502.2,306.6 512.5,313.4 500.6,323.9 490.3,315.1" stroke="#49ccc3"/>
<polygon points="491.9,298 502.2,306.6 490.3,315.1 480,305.5" stroke="#5cd2b1"/>
<polygon points="481.6,287.6 491.9,298 480,305.5 469.7,294.5" stroke="#76d696"/>
<polygon points="471.3,276.5 481.6,287.6 469.7,294.5 459.4,282.1" stroke="#a0d675"/>
<polygon points="461,264.6 471.3,276.5 459.4,282.1 449.1,269.3" stroke="#cbcf58"/>
<polygon points="450.7,251.9 461,264.6 449.1,269.3 438.8,256" stroke="#f0c85b"/>
<polygon points="440.4,237.5 450.7,251.9 438.8,256 428.5,241.8" stroke="#fed55c"/>
<polygon points="430.1,223.9 440.4,237.5 428.5,241.8 418.2,226.2" stroke="#f7eb51"/>
<polygon points="419.8,213.9 430.1,223.9 418.2,226.2 407.9,213.3" stroke="#fafc43"/>
<polygon points="409.5,228.8 419.8,213.9 407.9,213.3 397.6,216.9" stroke="#f7ec51"/>
<polygon points="399.2,249.1 409.5,228.8 397.6,216.9 387.3,236.3" stroke="#fed45c"/>
<polygon points="388.9,269.9 399.2,249.1 387.3,236.3 377,258.3" stroke="#edc859"/>
<polygon points="378.6,288.4 388.9,269.9 377,258.3 366.7,277.3" stroke="#c7d05a"/>
<polygon points="368.3,309.6 378.6,288.4 366.7,277.3 356.4,297.9" stroke="#8fd782"/>
<polygon points="358,331.3 368.3,309.6 356.4,297.9 346.1,319.9" stroke="#5fd3ab"/>
<polygon points="347.7,352.5 358,331.3 346.1,319.9 335.8,341.7" stroke="#3dcac9"/>
<polygon points="337.4,373.7 347.7,352.5 335.8,341.7 325.5,363" stroke="#45bee2"/>
<polygon points="327.1,395.7 337.4,373.7 325.5,363 315.2,385" stroke="#52acef"/>
<polygon points="316.8,417.8 327.1,395.7 315.2,385 304.9,407.5" stroke="#5c95fd"/>
<polygon points="658.4,189.4 668.7,170.8 656.8,175.1 646.5,195.4" stroke="#fed25e"/>
<polygon points="648.1,208 658.4,189.4 646.5,195.4 636.2,213.9" stroke="#eec85a"/>
<polygon points="637.8,224.9 648.1,208 636.2,213.9 625.9,231.5" stroke="#cdcf57"/>
<polygon points="627.5,240.8 637.8,224.9 625.9,231.5 615.6,248.4" stroke="#a7d570"/>
<polygon points="617.2,255.7 627.5,240.8 615.6,248.4 605.3,264.6" stroke="#82d78d"/>
<polygon points="606.9,269.5 617.2,255.7 605.3,264.6 595,279.2" stroke="#65d4a5"/>
<polygon points="596.6,281.7 606.9,269.5 595,279.2 584.7,291.9" stroke="#58d0b6"/>
<polygon points="586.3,291.8 596.6,281.7 584.7,291.9 574.4,302.9" stroke="#4bcdc2"/>
<polygon points="576,299.6 586.3,291.8 574.4,302.9 564.1,311.9" stroke="#3dcac9"/>
<polygon points="565.7,305.1 576,299.6 564.1,311.9 553.8,318.2" stroke="#37c9cd"/>
<polygon points="555.4,308.2 565.7,305.1 553.8,318.2 543.5,321.3" stroke="#37c9ce"/>
<polygon points="545.1,308.8 555.4,308.2 543.5,321.3 533.2,321.3" stroke="#3bcaca"/>
<polygon points="534.8,307 545.1,308.8 533.2,321.3 522.9,318.4" stroke="#48ccc4"/>
<polygon points="524.5,303 534.8,307 522.9,318.4 512.5,313.4" stroke="#56cfb9"/>
<polygon points="514.2,296.8 524.5,303 512.5,313.4 502.2,306.6" stroke="#61d3a9"/>
<polygon points="503.9,288.8 514.2,296.8 502.2,306.6 491.9,298" stroke="#7bd693"/>
<polygon points="493.6,279.8 503.9,288.8 491.9,298 481.6,287.6" stroke="#9ed677"/>
<polygon points="483.3,269.7 493.6,279.8 481.6,287.6 471.3,276.5" stroke="#c5d05b"/>
<polygon points="473,258.6 483.3,269.7 471.3,276.5 461,264.6" stroke="#e7c955"/>
<polygon points="462.7,246 473,258.6 461,264.6 450.7,251.9" stroke="#fece61"/>
<polygon points="452.4,232.6 462.7,246 450.7,251.9 440.4,237.5" stroke="#f8e355"/>
<polygon points="442.1,221.2 452.4,232.6 440.4,237.5 430.1,223.9" stroke="#f8f64a"/>
<polygon points="431.8,224.3 442.1,221.2 430.1,223.9 419.8,213.9" stroke="#f8f54a"/>
<polygon points="421.5,242.4 431.8,224.3 419.8,213.9 409.5,228.8" stroke="#f9e156"/>
<polygon points="411.2,263.3 421.5,242.4 409.5,228.8 399.2,249.1" stroke="#fdca63"/>
<polygon points="400.8,282 411.2,263.3 399.2,249.1 388.9,269.9" stroke="#dfcb53"/>
<polygon points="390.5,300.9 400.8,282 388.9,269.9 378.6,288.4" stroke="#b3d367"/>
<polygon points="380.2,322.2 390.5,300.9 378.6,288.4 368.3,309.6" stroke="#7bd693"/>
<polygon points="369.9,343.4 380.2,322.2 368.3,309.6 358,331.3" stroke="#57d0b7"/>
<polygon points="359.6,364.1 369.9,343.4 358,331.3 347.7,352.5" stroke="#34c7d2"/>
<polygon points="349.3,385.3 359.6,364.1 347.7,352.5 337.4,373.7" stroke="#4bb9e7"/>
<polygon points="339,407.2 349.3,385.3 337.4,373.7 327.1,395.7" stroke="#56a5f4"/>
<polygon points="328.7,428.6 339,407.2 327.1,395.7 316.8,417.8" stroke="#628eff"/>
<polygon points="670.4,182.7 680.7,166.7 668.7,170.8 658.4,189.4" stroke="#f9e355"/>
<polygon points="660.1,200.3 670.4,182.7 658.4,189.4 648.1,208" stroke="#fecf60"/>
<polygon points="649.8,217.2 660.1,200.3 648.1,208 637.8,224.9" stroke="#edc858"/>
<polygon points="639.5,232.3 649.8,217.2 637.8,224.9 627.5,240.8" stroke="#d0ce55"/>
<polygon points="629.1,246.3 639.5,232.3 627.5,240.8 617.2,255.7" stroke="#b0d469"/>
<polygon points="618.8,258.9 629.1,246.3 617.2,255.7 606.9,269.5" stroke="#91d781"/>
<polygon points="608.5,270.1 618.8,258.9 606.9,269.5 596.6,281.7" stroke="#78d695"/>
<polygon points="598.2,279.7 608.5,270.1 596.6,281.7 586.3,291.8" stroke="#67d5a3"/>
<polygon points="587.9,287.3 598.2,279.7 586.3,291.8 576,299.6" stroke="#5fd3ad"/>
<polygon points="577.6,292.6 587.9,287.3 576,299.6 565.7,305.1" stroke="#5bd2b1"/>
<polygon points="567.3,295.7 577.6,292.6 565.7,305.1 555.4,308.2" stroke="#5bd2b2"/>
<polygon points="557,296.4 567.3,295.7 555.4,308.2 545.1,308.8" stroke="#5ed2ae"/>
<polygon points="546.7,294.9 557,296.4 545.1,308.8 534.8,307" stroke="#64d4a6"/>
<polygon points="536.4,291.3 546.7,294.9 534.8,307 524.5,303" stroke="#74d698"/>
<polygon points="526.1,286 536.4,291.3 524.5,303 514.2,296.8" stroke="#8bd785"/>
<polygon points="515.8,279.2 526.1,286 514.2,296.8 503.9,288.8" stroke="#a9d56f"/>
<polygon points="505.5,271.1 515.8,279.2 503.9,288.8 493.6,279.8" stroke="#c9d059"/>
<polygon points="495.2,261.8 505.5,271.1 493.6,279.8 483.3,269.7" stroke="#e6c955"/>
<polygon points="484.9,251 495.2,261.8 483.3,269.7 473,258.6" stroke="#fecb63"/>
<polygon points="474.6,238.7 484.9,251 473,258.6 462.7,246" stroke="#fadf57"/>
<polygon points="464.3,228.1 474.6,238.7 462.7,246 452.4,232.6" stroke="#f7f14e"/>
<polygon points="454,222.7 464.3,228.1 452.4,232.6 442.1,221.2" stroke="#fafb44"/>
<polygon points="443.7,238.7 454,222.7 442.1,221.2 431.8,224.3" stroke="#f7ea52"/>
<polygon points="433.4,257.9 443.7,238.7 431.8,224.3 421.5,242.4" stroke="#fed45d"/>
<polygon points="423.1,277.5 433.4,257.9 421.5,242.4 411.2,263.3" stroke="#eec85a"/>
<polygon points="412.8,294.9 423.1,277.5 411.2,263.3 400.8,282" stroke="#cccf57"/>
<polygon points="402.5,315 412.8,294.9 400.8,282 390.5,300.9" stroke="#99d67b"/>
<polygon points="392.2,335.8 402.5,315 390.5,300.9 380.2,322.2" stroke="#66d5a4"/>
<polygon points="381.9,356.4 392.2,335.8 380.2,322.2 369.9,343.4" stroke="#49cdc3"/>
<polygon points="371.6,376.7 381.9,356.4 369.9,343.4 359.6,364.1" stroke="#3cc2db"/>
<polygon points="361.3,397.9 371.6,376.7 359.6,364.1 349.3,385.3" stroke="#50b2eb"/>
<polygon points="351,419.6 361.3,397.9 349.3,385.3 339,407.2" stroke="#589df9"/>
<polygon points="340.7,440 351,419.6 339,407.2 328.7,428.6" stroke="#6887fe"/>
<polygon points="682.3,176.9 692.6,167.1 680.7,166.7 670.4,182.7" stroke="#f7f24d"/>
<polygon points="672,191.7 682.3,176.9 670.4,182.7 660.1,200.3" stroke="#f9e255"/>
<polygon points="661.7,207.7 672,191.7 660.1,200.3 649.8,217.2" stroke="#fed05f"/>
<polygon points="651.4,222.9 661.7,207.7 649.8,217.2 639.5,232.3" stroke="#f2c85d"/>
<polygon points="641.1,236.2 651.4,222.9 639.5,232.3 629.1,246.3" stroke="#dbcc52"/>
<polygon points="630.8,248.1 641.1,236.2 629.1,246.3 618.8,258.9" stroke="#c3d15c"/>
<polygon points="620.5,258.5 630.8,248.1 618.8,258.9 608.5,270.1" stroke="#acd46c"/>
<polygon points="610.2,267.2 620.5,258.5 608.5,270.1 598.2,279.7" stroke="#9ad67a"/>
<polygon points="599.9,274.2 610.2,267.2 598.2,279.7 587.9,287.3" stroke="#8cd784"/>
<polygon points="589.6,279.2 599.9,274.2 587.9,287.3 577.6,292.6" stroke="#86d789"/>
<polygon points="579.3,282.2 589.6,279.2 577.6,292.6 567.3,295.7" stroke="#85d78a"/>
<polygon points="569,283.2 579.3,282.2 567.3,295.7 557,296.4" stroke="#8ad786"/>
<polygon points="558.7,282.2 569,283.2 557,296.4 546.7,294.9" stroke="#96d67d"/>
<polygon points="548.4,279.5 558.7,282.2 546.7,294.9 536.4,291.3" stroke="#a8d56f"/>
<polygon points="538.1,275 548.4,279.5 536.4,291.3 526.1,286" stroke="#bed260"/>
<polygon points="527.8,269 538.1,275 526.1,286 515.8,279.2" stroke="#d5cd53"/>
<polygon points="517.4,261.6 527.8,269 515.8,279.2 505.5,271.1" stroke="#edc859"/>
<polygon points="507.1,252.4 517.4,261.6 505.5,271.1 495.2,261.8" stroke="#fecd62"/>
<polygon points="496.8,241.9 507.1,252.4 495.2,261.8 484.9,251" stroke="#fbde57"/>
<polygon points="486.5,232.3 496.8,241.9 484.9,251 474.6,238.7" stroke="#f7ef4f"/>
<polygon points="476.2,225 486.5,232.3 474.6,238.7 464.3,228.1" stroke="#fafc43"/>
<polygon points="465.9,237.7 476.2,225 464.3,228.1 454,222.7" stroke="#f7ef4f"/>
<polygon points="455.6,255 465.9,237.7 454,222.7 443.7,238.7" stroke="#fcdb58"/>
<polygon points="445.3,274.5 455.6,255 443.7,238.7 433.4,257.9" stroke="#f9c864"/>
<polygon points="435,291.6 445.3,274.5 433.4,257.9 423.1,277.5" stroke="#dccc52"/>
<polygon points="424.7,309.6 435,291.6 423.1,277.5 412.8,294.9" stroke="#b2d468"/>
<polygon points="414.4,329.9 424.7,309.6 412.8,294.9 402.5,315" stroke="#7cd791"/>
<polygon points="404.1,350.1 414.4,329.9 402.5,315 392.2,335.8" stroke="#59d1b4"/>
<polygon points="393.8,370 404.1,350.1 392.2,335.8 381.9,356.4" stroke="#35c8ce"/>
<polygon points="383.5,390.3 393.8,370 381.9,356.4 371.6,376.7" stroke="#48bce4"/>
<polygon points="373.2,411.3 383.5,390.3 371.6,376.7 361.3,397.9" stroke="#54aaf0"/>
<polygon points="362.9,432.4 373.2,411.3 361.3,397.9 351,419.6" stroke="#5d94fd"/>
<polygon points="352.6,452.1 362.9,432.4 351,419.6 340.7,440" stroke="#6b7efc"/>
</g>
<path d="M352.6 520.3L692.6 428.4M352.6 520.3L90 398.5M90 398.5L90 136M419.3 502.3L425.6 505.2M523.1 474.2L529.4 477.2M626.9 446.2L633.2 449.1M339.5 514.2L332.7 516M220.2 458.9L213.5 460.7M101 403.6L94.2 405.4M90 398.5L82.2 394.9M90 354.6L82.2 351M90 310.7L82.2 307.1M90 266.9L82.2 263.2M90 223L82.2 219.4M90 179.1L82.2 175.5" stroke="#3c3c3c" stroke-width="1.4" fill="none" stroke-linecap="square"/>
<text x="391.5" y="33" font-size="20" text-anchor="middle" font-weight="bold" fill="#111" textLength="343" lengthAdjust="spacingAndGlyphs">SINR BS15 [dB] Micro Cell scenario</text>
<text x="72.8" y="401.1" font-size="18" text-anchor="end" font-weight="normal" fill="#303030">-12</text>
<text x="72.8" y="357.2" font-size="18" text-anchor="end" font-weight="normal" fill="#303030">-10</text>
<text x="72.8" y="313.3" font-size="18" text-anchor="end" font-weight="normal" fill="#303030">-8</text>
<text x="72.8" y="269.5" font-size="18" text-anchor="end" font-weight="normal" fill="#303030">-6</text>
<text x="72.8" y="225.6" font-size="18" text-anchor="end" font-weight="normal" fill="#303030">-4</text>
<text x="72.8" y="181.7" font-size="18" text-anchor="end" font-weight="normal" fill="#303030">-2</text>
<text x="35.3" y="103.2" font-size="16.5" fill="#262626"><tspan font-size="19.5" fill="#555">×</tspan><tspan x="50.5">10</tspan><tspan x="69.3" dy="-9" font-size="13.5">-7</tspan></text>
<text x="441.1" y="529.5" font-size="18" text-anchor="middle" font-weight="normal" fill="#303030">-5</text>
<text x="542.8" y="500.9" font-size="18" text-anchor="middle" font-weight="normal" fill="#303030">0</text>
<text x="646" y="471.9" font-size="18" text-anchor="middle" font-weight="normal" fill="#303030">5</text>
<text x="316.2" y="538.7" font-size="18" text-anchor="middle" font-weight="normal" fill="#303030">-5</text>
<text x="199.3" y="485.4" font-size="18" text-anchor="middle" font-weight="normal" fill="#303030">0</text>
<text x="79.1" y="429.8" font-size="18" text-anchor="middle" font-weight="normal" fill="#303030">5</text>
<text x="515.4" y="551.5" font-size="20" text-anchor="middle" font-weight="normal" fill="#303030">X (km)</text>
<text x="207.7" y="543.8" font-size="20" text-anchor="middle" font-weight="normal" fill="#303030">Y (km)</text>
<text transform="translate(34.5 268.4) rotate(-90)" font-size="20" text-anchor="middle" fill="#262626">SINR [dB]</text>
</svg>
</body></html>
